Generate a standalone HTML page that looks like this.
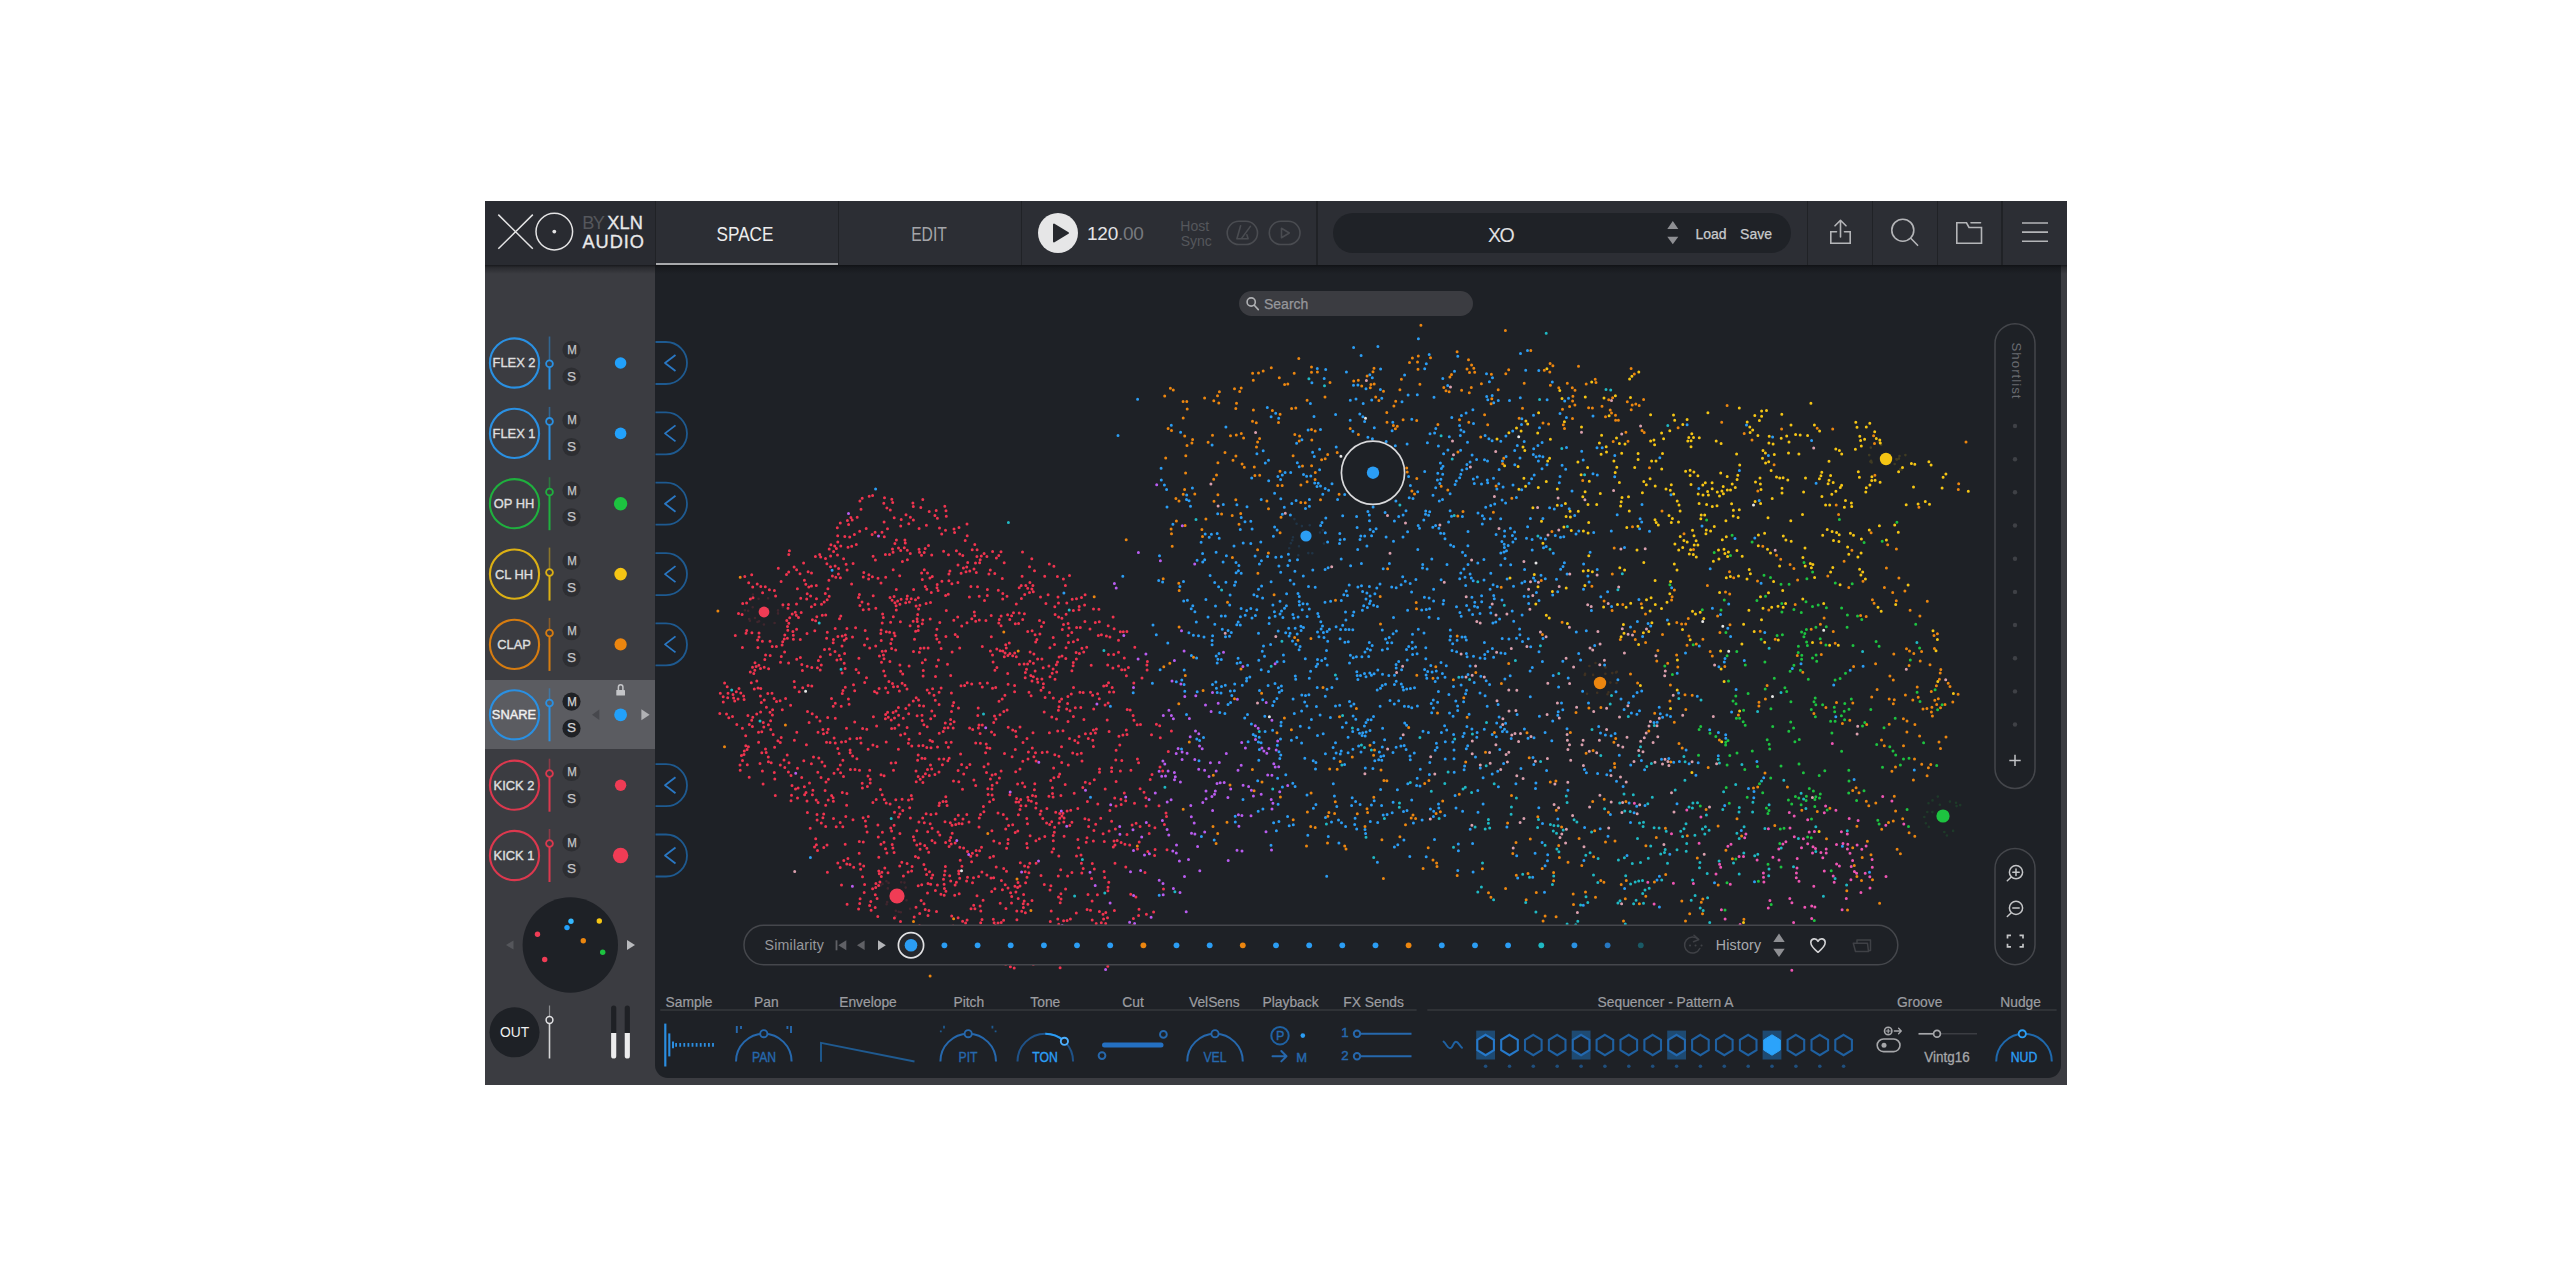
<!DOCTYPE html>
<html lang="en">
<head>
<meta charset="utf-8">
<title>XO by XLN Audio</title>
<style>
html,body{margin:0;padding:0;background:#fff;}
body{width:2560px;height:1280px;overflow:hidden;position:relative;font-family:"Liberation Sans",sans-serif;}
#stage{position:absolute;left:0;top:0;width:2560px;height:1280px;overflow:hidden;}
#stage div{position:absolute;box-sizing:border-box;}
.t{white-space:nowrap;transform:translate(-50%,-50%);line-height:1;color:#e4e4e6;}
.tl{white-space:nowrap;transform:translate(0,-50%);line-height:1;color:#e4e4e6;}
#app{left:485px;top:201px;width:1581.5px;height:883.5px;background:#3b3c41;}
#main{left:655.3px;top:265px;width:1406px;height:813.3px;background:#1e2126;border-radius:0 0 13px 13px;}
#topbar{left:485px;top:201px;width:1581.5px;height:64px;background:#2c2e34;}
#tbshadow{left:485px;top:265px;width:1581.5px;height:9px;background:linear-gradient(rgba(12,13,16,.75),rgba(12,13,16,.35) 30%,rgba(12,13,16,0));}
#logo{left:485px;top:201px;width:170.5px;height:64px;background:#292b31;}
.vd{top:201px;width:1.5px;height:64px;background:#202226;}
#tabline{left:656px;top:262.5px;width:182px;height:2.5px;background:#a8a9ac;}
#preset{left:1332.5px;top:213px;width:458.5px;height:39.5px;border-radius:20px;background:#1f2227;}
#search{left:1238.7px;top:290.7px;width:234px;height:25px;border-radius:12.5px;background:#3b3c41;}
#selrow{left:485px;top:679.8px;width:170.3px;height:69.6px;background:#5b5c61;}
svg{position:absolute;left:0;top:0;}
.lab{font-size:13.8px;color:#9c9da1;-webkit-text-stroke:.2px #9c9da1;}
</style>
</head>
<body>
<div id="stage">
<div id="app"></div>
<div id="main"></div>
<div id="selrow"></div>
<div id="tbshadow"></div>
<div id="topbar"></div>
<div id="logo"></div>
<div class="vd" style="left:654.8px"></div>
<div class="vd" style="left:837.5px"></div>
<div class="vd" style="left:1020.5px"></div>
<div class="vd" style="left:1316px"></div>
<div class="vd" style="left:1806.5px"></div>
<div class="vd" style="left:1871.7px"></div>
<div class="vd" style="left:1936.8px"></div>
<div class="vd" style="left:2001.2px"></div>
<div id="tabline"></div>
<div id="preset"></div>
<div id="search"></div>
<!-- top bar text -->
<div class="tl" style="left:582.3px;top:223.3px;font-size:18.2px;letter-spacing:-1.6px;color:#55575c">BY</div>
<div class="tl" style="left:607.2px;top:223.3px;font-size:18.2px;letter-spacing:.1px;color:#e9e9ea;-webkit-text-stroke:.3px #e9e9ea">XLN</div>
<div class="tl" style="left:582.4px;top:242.3px;font-size:18.2px;letter-spacing:1px;color:#e9e9ea;-webkit-text-stroke:.3px #e9e9ea">AUDIO</div>
<div class="t" style="left:745.3px;top:233.9px;font-size:20.6px;color:#ececed;transform:translate(-50%,-50%) scaleX(.835)">SPACE</div>
<div class="t" style="left:929.1px;top:233.9px;font-size:20.6px;color:#a4a5a9;transform:translate(-50%,-50%) scaleX(.76)">EDIT</div>
<div class="tl" style="left:1087px;top:233.3px;font-size:19px;letter-spacing:-.25px;color:#e4e4e6">120<span style="color:#77797e">.00</span></div>
<div class="t" style="left:1194.7px;top:226px;font-size:14px;color:#55575c">Host</div>
<div class="t" style="left:1196.3px;top:240.8px;font-size:14px;color:#55575c">Sync</div>
<div class="t" style="left:1500.6px;top:235.5px;font-size:19.6px;letter-spacing:-1.6px;color:#e0e0e2">XO</div>
<div class="t" style="left:1711px;top:233.5px;font-size:14px;color:#c9cacc;-webkit-text-stroke:.25px #c9cacc">Load</div>
<div class="t" style="left:1756px;top:233.5px;font-size:14px;color:#c9cacc;-webkit-text-stroke:.25px #c9cacc">Save</div>
<div class="tl" style="left:1264px;top:303.5px;font-size:14px;color:#96979b;-webkit-text-stroke:.25px #96979b">Search</div>
<svg width="2560" height="1280" viewBox="0 0 2560 1280" fill="none" stroke-linecap="round" stroke-linejoin="round">
<!-- logo -->
<g stroke="#e4e4e5" stroke-width="1.5">
<path d="M498.3 214.6 L532.8 248.8 M532.8 214.6 L498.3 248.8" stroke-linecap="butt"/>
<circle cx="554.3" cy="231.6" r="18.3"/>
<circle cx="554.3" cy="231.6" r="1.9" fill="#e4e4e5" stroke="none"/>
</g>
<!-- play -->
<circle cx="1058" cy="233" r="20" fill="#e6e6e7"/>
<path d="M1054 224.5 L1054 241.5 L1068 233 Z" fill="#26282d" stroke="#26282d" stroke-width="2"/>
<!-- metronome + host play pills -->
<g stroke="#4a4c51" stroke-width="1.6">
<rect x="1227.2" y="221.3" width="30.3" height="23.2" rx="11.6"/>
<rect x="1269.3" y="221.3" width="30.7" height="23.2" rx="11.6"/>
<path d="M1240.6 225.8 L1236.9 238.7 L1248.1 238.7 L1246.9 234.8 M1241.6 238.4 L1250.4 226.4"/>
<path d="M1281.5 228.3 L1281.5 237.7 L1289.3 233 Z"/>
</g>
<!-- preset arrows -->
<path d="M1672.8 221 L1678.3 229 L1667.3 229 Z M1672.8 244.3 L1678.3 236.8 L1667.3 236.8 Z" fill="#8e8f93"/>
<!-- share -->
<g stroke="#b4b5b8" stroke-width="1.6">
<path d="M1836.5 231.8 L1830.8 231.8 L1830.8 243.2 L1850.2 243.2 L1850.2 231.8 L1844.5 231.8" stroke-linejoin="miter"/>
<path d="M1840.5 237 L1840.5 220.3 M1835 225.8 L1840.5 220.3 L1846 225.8"/>
<!-- search -->
<circle cx="1902.8" cy="230.2" r="11"/>
<path d="M1910.8 238.3 L1917.6 245.3"/>
<!-- folder -->
<path d="M1956.8 243.3 L1956.8 222.8 L1966.5 222.8 L1969 227.5 L1981.5 227.5 L1981.5 243.3 Z" stroke-linejoin="miter"/>
<path d="M1971 222.8 L1980.5 222.8"/>
<!-- menu -->
<path d="M2022 223 L2048 223 M2022 232.1 L2048 232.1 M2022 241.2 L2048 241.2" stroke-linecap="butt"/>
</g>
<!-- search field icon -->
<g stroke="#b0b1b4" stroke-width="1.6">
<circle cx="1251.2" cy="302" r="4.1"/>
<path d="M1254.3 305.3 L1258.3 309.6"/>
</g>
</svg>
<svg width="2560" height="1280" viewBox="0 0 2560 1280" fill="none" stroke-linecap="butt" stroke-linejoin="round">
<circle cx="514.5" cy="363.0" r="24.6" stroke="#2a90e2" stroke-width="2.1"/>
<path d="M549.5 336.5 L549.5 360.3" stroke="#2a90e2" stroke-opacity=".5" stroke-width="1.6"/>
<path d="M549.5 367.3 L549.5 389.5" stroke="#2a90e2" stroke-width="2"/>
<circle cx="549.5" cy="363.8" r="3.4" stroke="#2a90e2" stroke-width="1.8"/>
<circle cx="571.5" cy="349.8" r="9.1" fill="#2d2e32"/><circle cx="571.5" cy="376.6" r="9.1" fill="#2d2e32"/>
<circle cx="620.6" cy="363.0" r="5.8" fill="#22a1fb"/>
<path d="M655.5 342.0 L666 342.0 A21 21 0 0 1 666 384.0 L655.5 384.0" stroke="#1e5a90" stroke-width="1.8"/>
<path d="M675.5 355.0 L665 363.0 L675.5 371.0" stroke="#2a78c4" stroke-width="1.8"/>
<circle cx="514.5" cy="433.4" r="24.6" stroke="#2a90e2" stroke-width="2.1"/>
<path d="M549.5 406.9 L549.5 417.9" stroke="#2a90e2" stroke-opacity=".5" stroke-width="1.6"/>
<path d="M549.5 424.9 L549.5 459.9" stroke="#2a90e2" stroke-width="2"/>
<circle cx="549.5" cy="421.4" r="3.4" stroke="#2a90e2" stroke-width="1.8"/>
<circle cx="571.5" cy="420.2" r="9.1" fill="#2d2e32"/><circle cx="571.5" cy="447.0" r="9.1" fill="#2d2e32"/>
<circle cx="620.6" cy="433.4" r="5.8" fill="#22a1fb"/>
<path d="M655.5 412.4 L666 412.4 A21 21 0 0 1 666 454.4 L655.5 454.4" stroke="#1e5a90" stroke-width="1.8"/>
<path d="M675.5 425.4 L665 433.4 L675.5 441.4" stroke="#2a78c4" stroke-width="1.8"/>
<circle cx="514.5" cy="503.7" r="24.6" stroke="#1fb03e" stroke-width="2.1"/>
<path d="M549.5 477.2 L549.5 488.5" stroke="#1fb03e" stroke-opacity=".5" stroke-width="1.6"/>
<path d="M549.5 495.5 L549.5 530.2" stroke="#1fb03e" stroke-width="2"/>
<circle cx="549.5" cy="492.0" r="3.4" stroke="#1fb03e" stroke-width="1.8"/>
<circle cx="571.5" cy="490.5" r="9.1" fill="#2d2e32"/><circle cx="571.5" cy="517.3" r="9.1" fill="#2d2e32"/>
<circle cx="620.6" cy="503.7" r="6.7" fill="#1dc340"/>
<path d="M655.5 482.7 L666 482.7 A21 21 0 0 1 666 524.7 L655.5 524.7" stroke="#1e5a90" stroke-width="1.8"/>
<path d="M675.5 495.7 L665 503.7 L675.5 511.7" stroke="#2a78c4" stroke-width="1.8"/>
<circle cx="514.5" cy="574.1" r="24.6" stroke="#dcb014" stroke-width="2.1"/>
<path d="M549.5 547.6 L549.5 569.0" stroke="#dcb014" stroke-opacity=".5" stroke-width="1.6"/>
<path d="M549.5 576.0 L549.5 600.6" stroke="#dcb014" stroke-width="2"/>
<circle cx="549.5" cy="572.5" r="3.4" stroke="#dcb014" stroke-width="1.8"/>
<circle cx="571.5" cy="560.9" r="9.1" fill="#2d2e32"/><circle cx="571.5" cy="587.7" r="9.1" fill="#2d2e32"/>
<circle cx="620.6" cy="574.1" r="6.3" fill="#f5c514"/>
<path d="M655.5 553.1 L666 553.1 A21 21 0 0 1 666 595.1 L655.5 595.1" stroke="#1e5a90" stroke-width="1.8"/>
<path d="M675.5 566.1 L665 574.1 L675.5 582.1" stroke="#2a78c4" stroke-width="1.8"/>
<circle cx="514.5" cy="644.4" r="24.6" stroke="#d67c10" stroke-width="2.1"/>
<path d="M549.5 617.9 L549.5 629.5" stroke="#d67c10" stroke-opacity=".5" stroke-width="1.6"/>
<path d="M549.5 636.5 L549.5 670.9" stroke="#d67c10" stroke-width="2"/>
<circle cx="549.5" cy="633.0" r="3.4" stroke="#d67c10" stroke-width="1.8"/>
<circle cx="571.5" cy="631.2" r="9.1" fill="#2d2e32"/><circle cx="571.5" cy="658.0" r="9.1" fill="#2d2e32"/>
<circle cx="620.6" cy="644.4" r="6.1" fill="#ec860f"/>
<path d="M655.5 623.4 L666 623.4 A21 21 0 0 1 666 665.4 L655.5 665.4" stroke="#1e5a90" stroke-width="1.8"/>
<path d="M675.5 636.4 L665 644.4 L675.5 652.4" stroke="#2a78c4" stroke-width="1.8"/>
<circle cx="514.5" cy="714.8" r="24.6" stroke="#2a90e2" stroke-width="2.1"/>
<path d="M549.5 688.3 L549.5 699.5" stroke="#2a90e2" stroke-opacity=".5" stroke-width="1.6"/>
<path d="M549.5 706.5 L549.5 741.3" stroke="#2a90e2" stroke-width="2"/>
<circle cx="549.5" cy="703.0" r="3.4" stroke="#2a90e2" stroke-width="1.8"/>
<circle cx="571.5" cy="701.6" r="9.1" fill="#1f2125"/><circle cx="571.5" cy="728.4" r="9.1" fill="#1f2125"/>
<circle cx="620.6" cy="714.8" r="6.4" fill="#22a1fb"/>
<circle cx="514.5" cy="785.2" r="24.6" stroke="#dc384e" stroke-width="2.1"/>
<path d="M549.5 758.7 L549.5 770.0" stroke="#dc384e" stroke-opacity=".5" stroke-width="1.6"/>
<path d="M549.5 777.0 L549.5 811.7" stroke="#dc384e" stroke-width="2"/>
<circle cx="549.5" cy="773.5" r="3.4" stroke="#dc384e" stroke-width="1.8"/>
<circle cx="571.5" cy="772.0" r="9.1" fill="#2d2e32"/><circle cx="571.5" cy="798.8" r="9.1" fill="#2d2e32"/>
<circle cx="620.6" cy="785.2" r="5.7" fill="#f03c55"/>
<path d="M655.5 764.2 L666 764.2 A21 21 0 0 1 666 806.2 L655.5 806.2" stroke="#1e5a90" stroke-width="1.8"/>
<path d="M675.5 777.2 L665 785.2 L675.5 793.2" stroke="#2a78c4" stroke-width="1.8"/>
<circle cx="514.5" cy="855.5" r="24.6" stroke="#dc384e" stroke-width="2.1"/>
<path d="M549.5 829.0 L549.5 840.0" stroke="#dc384e" stroke-opacity=".5" stroke-width="1.6"/>
<path d="M549.5 847.0 L549.5 882.0" stroke="#dc384e" stroke-width="2"/>
<circle cx="549.5" cy="843.5" r="3.4" stroke="#dc384e" stroke-width="1.8"/>
<circle cx="571.5" cy="842.3" r="9.1" fill="#2d2e32"/><circle cx="571.5" cy="869.1" r="9.1" fill="#2d2e32"/>
<circle cx="620.6" cy="855.5" r="7.7" fill="#f03c55"/>
<path d="M655.5 834.5 L666 834.5 A21 21 0 0 1 666 876.5 L655.5 876.5" stroke="#1e5a90" stroke-width="1.8"/>
<path d="M675.5 847.5 L665 855.5 L675.5 863.5" stroke="#2a78c4" stroke-width="1.8"/>
<path d="M599.3 709.5 L599.3 720.1 L592 714.8 Z" fill="#47484d"/>
<path d="M641.4 709.3 L641.4 720.3 L649.6 714.8 Z" fill="#b0b1b4"/>
<rect x="616.3" y="689.9" width="8.7" height="5.6" rx="0.6" fill="#c4c5c8"/><path d="M618.4 689.9 v-3 a2.25 2.25 0 0 1 4.5 0 v3" stroke="#c4c5c8" stroke-width="1.5"/>
<circle cx="570.3" cy="945" r="47.7" fill="#1e2126"/>
<circle cx="537.5" cy="934.3" r="2.7" fill="#f03c55"/>
<circle cx="544.7" cy="959.5" r="2.7" fill="#f03c55"/>
<circle cx="571" cy="921.3" r="2.7" fill="#35b8ff"/>
<circle cx="567" cy="927.6" r="2.7" fill="#22a1fb"/>
<circle cx="599.3" cy="921" r="2.7" fill="#f5c514"/>
<circle cx="583.3" cy="940.7" r="2.7" fill="#ec860f"/>
<circle cx="602.7" cy="952.3" r="2.7" fill="#1dc340"/>
<path d="M513.5 940.5 L513.5 949.5 L506 945 Z" fill="#55565b"/>
<path d="M627 940 L627 950 L635 945 Z" fill="#b9babd"/>
<circle cx="514.5" cy="1032.3" r="25" fill="#1e2126"/>
<path d="M549.5 1005.5 L549.5 1016.3" stroke="#8b8c90" stroke-width="1.2"/>
<path d="M549.5 1023.6 L549.5 1058.5" stroke="#d5d5d7" stroke-width="1.6"/>
<circle cx="549.5" cy="1020" r="3.4" stroke="#e2e2e4" stroke-width="1.5"/>
<rect x="611.1" y="1005.5" width="5.2" height="53" rx="2.6" fill="#1f2125"/>
<path d="M611.1 1033 L616.3000000000001 1033 L616.3000000000001 1055.9 A2.6 2.6 0 0 1 611.1 1055.9 Z" fill="#ececed"/>
<rect x="624.6999999999999" y="1005.5" width="5.2" height="53" rx="2.6" fill="#1f2125"/>
<path d="M624.6999999999999 1033 L629.9 1033 L629.9 1055.9 A2.6 2.6 0 0 1 624.6999999999999 1055.9 Z" fill="#ececed"/>
</svg>
<div class="t" style="left:513.8px;top:363.4px;font-size:13.7px;color:#dededf;-webkit-text-stroke:.4px #dededf;transform:translate(-50%,-50%) scaleX(.94)">FLEX 2</div>
<div class="t" style="left:571.6px;top:350.0px;font-size:12.8px;color:#c4c5c8;-webkit-text-stroke:.25px #c4c5c8;transform:translate(-50%,-50%) scaleX(.9)">M</div>
<div class="t" style="left:571.6px;top:376.6px;font-size:13.6px;color:#c4c5c8;-webkit-text-stroke:.25px #c4c5c8">S</div>
<div class="t" style="left:513.8px;top:433.8px;font-size:13.7px;color:#dededf;-webkit-text-stroke:.4px #dededf;transform:translate(-50%,-50%) scaleX(.94)">FLEX 1</div>
<div class="t" style="left:571.6px;top:420.4px;font-size:12.8px;color:#c4c5c8;-webkit-text-stroke:.25px #c4c5c8;transform:translate(-50%,-50%) scaleX(.9)">M</div>
<div class="t" style="left:571.6px;top:447.0px;font-size:13.6px;color:#c4c5c8;-webkit-text-stroke:.25px #c4c5c8">S</div>
<div class="t" style="left:513.8px;top:504.1px;font-size:13.7px;color:#dededf;-webkit-text-stroke:.4px #dededf;transform:translate(-50%,-50%) scaleX(.94)">OP HH</div>
<div class="t" style="left:571.6px;top:490.7px;font-size:12.8px;color:#c4c5c8;-webkit-text-stroke:.25px #c4c5c8;transform:translate(-50%,-50%) scaleX(.9)">M</div>
<div class="t" style="left:571.6px;top:517.3px;font-size:13.6px;color:#c4c5c8;-webkit-text-stroke:.25px #c4c5c8">S</div>
<div class="t" style="left:513.8px;top:574.5px;font-size:13.7px;color:#dededf;-webkit-text-stroke:.4px #dededf;transform:translate(-50%,-50%) scaleX(.94)">CL HH</div>
<div class="t" style="left:571.6px;top:561.1px;font-size:12.8px;color:#c4c5c8;-webkit-text-stroke:.25px #c4c5c8;transform:translate(-50%,-50%) scaleX(.9)">M</div>
<div class="t" style="left:571.6px;top:587.7px;font-size:13.6px;color:#c4c5c8;-webkit-text-stroke:.25px #c4c5c8">S</div>
<div class="t" style="left:513.8px;top:644.8px;font-size:13.7px;color:#dededf;-webkit-text-stroke:.4px #dededf;transform:translate(-50%,-50%) scaleX(.94)">CLAP</div>
<div class="t" style="left:571.6px;top:631.4px;font-size:12.8px;color:#c4c5c8;-webkit-text-stroke:.25px #c4c5c8;transform:translate(-50%,-50%) scaleX(.9)">M</div>
<div class="t" style="left:571.6px;top:658.0px;font-size:13.6px;color:#c4c5c8;-webkit-text-stroke:.25px #c4c5c8">S</div>
<div class="t" style="left:513.8px;top:715.2px;font-size:13.7px;color:#f0f0f1;-webkit-text-stroke:.4px #f0f0f1;transform:translate(-50%,-50%) scaleX(.94)">SNARE</div>
<div class="t" style="left:571.6px;top:701.8px;font-size:12.8px;color:#d4d4d6;-webkit-text-stroke:.25px #d4d4d6;transform:translate(-50%,-50%) scaleX(.9)">M</div>
<div class="t" style="left:571.6px;top:728.4px;font-size:13.6px;color:#d4d4d6;-webkit-text-stroke:.25px #d4d4d6">S</div>
<div class="t" style="left:513.8px;top:785.6px;font-size:13.7px;color:#dededf;-webkit-text-stroke:.4px #dededf;transform:translate(-50%,-50%) scaleX(.94)">KICK 2</div>
<div class="t" style="left:571.6px;top:772.2px;font-size:12.8px;color:#c4c5c8;-webkit-text-stroke:.25px #c4c5c8;transform:translate(-50%,-50%) scaleX(.9)">M</div>
<div class="t" style="left:571.6px;top:798.8px;font-size:13.6px;color:#c4c5c8;-webkit-text-stroke:.25px #c4c5c8">S</div>
<div class="t" style="left:513.8px;top:855.9px;font-size:13.7px;color:#dededf;-webkit-text-stroke:.4px #dededf;transform:translate(-50%,-50%) scaleX(.94)">KICK 1</div>
<div class="t" style="left:571.6px;top:842.5px;font-size:12.8px;color:#c4c5c8;-webkit-text-stroke:.25px #c4c5c8;transform:translate(-50%,-50%) scaleX(.9)">M</div>
<div class="t" style="left:571.6px;top:869.1px;font-size:13.6px;color:#c4c5c8;-webkit-text-stroke:.25px #c4c5c8">S</div>
<div class="t" style="left:514.5px;top:1032.8px;font-size:13.8px;color:#f0f0f1">OUT</div>
<svg width="2560" height="1280" viewBox="0 0 2560 1280" fill="none" stroke-linecap="round" stroke-width="3">
<clipPath id="sc"><rect x="656" y="266" width="1405" height="723"/></clipPath>
<g clip-path="url(#sc)">
<path stroke="#f0344f" d="M844.6 653.5h0M870.2 779.2h0M870.2 782.9h0M867.4 786.5h0M842.8 826.7h0M1064.1 818.0h0M1063.8 821.9h0M1000.2 903.2h0M872.9 745.1h0M847.4 520.6h0M852.2 519.9h0M857.2 517.2h0M1029.8 863.2h0M1060.7 869.7h0M1127.0 834.4h0M794.4 740.2h0M856.9 738.4h0M885.4 554.6h0M966.0 571.7h0M788.4 771.9h0M784.8 767.5h0M780.3 765.0h0M740.8 693.1h0M739.0 688.4h0M938.1 590.6h0M914.3 840.2h0M913.4 836.8h0M875.3 894.8h0M877.1 898.5h0M1092.2 919.9h0M1096.2 923.5h0M1101.3 922.8h0M1105.7 923.6h0M996.9 667.6h0M994.9 670.3h0M885.1 675.7h0M883.7 670.9h0M816.8 616.7h0M1037.2 928.6h0M1134.5 803.3h0M1020.7 799.4h0M1001.4 880.6h0M774.8 779.0h0M800.0 573.8h0M1043.2 687.6h0M1043.4 683.7h0M1041.9 679.1h0M784.3 638.9h0M980.1 733.4h0M1098.3 635.5h0M1109.1 731.5h0M899.9 833.6h0M1149.2 825.6h0M989.9 857.5h0M1027.3 847.8h0M859.9 500.9h0M862.2 498.3h0M1105.2 789.0h0M835.8 577.2h0M840.4 577.7h0M880.4 789.5h0M951.2 844.0h0M949.7 840.5h0M1002.8 593.4h0M1002.7 599.0h0M765.5 748.9h0M766.2 752.4h0M768.3 757.0h0M768.4 761.8h0M777.9 740.7h0M1023.6 894.4h0M1123.3 631.8h0M1007.6 614.7h0M1084.4 957.9h0M1047.6 940.1h0M1042.5 937.2h0M1037.8 939.8h0M746.7 630.5h0M751.9 632.7h0M791.5 795.2h0M791.0 800.7h0M890.1 804.1h0M1114.1 628.8h0M945.4 866.6h0M894.1 838.2h0M881.1 630.1h0M1060.1 967.7h0M1039.5 620.5h0M1043.7 622.4h0M919.4 705.5h0M918.5 700.0h0M916.2 697.7h0M856.9 758.8h0M1118.9 736.3h0M1122.9 735.1h0M825.5 558.6h0M820.7 557.0h0M939.1 704.6h0M826.0 782.0h0M918.2 776.6h0M916.0 771.1h0M909.1 666.0h0M1036.1 863.3h0M937.0 587.8h0M1126.9 631.5h0M1146.9 664.9h0M875.7 887.6h0M878.6 885.4h0M879.9 882.1h0M1042.9 954.0h0M1040.5 956.8h0M852.6 755.9h0M1049.4 732.8h0M988.7 943.9h0M1032.5 943.1h0M860.1 898.8h0M859.7 903.5h0M858.6 908.9h0M915.4 856.6h0M1047.2 752.0h0M1042.2 752.6h0M954.1 721.8h0M919.9 605.2h0M1159.7 725.8h0M750.3 672.1h0M882.2 794.8h0M1130.7 894.2h0M1135.9 896.9h0M917.1 715.8h0M828.9 580.2h0M832.4 576.0h0M1121.2 804.4h0M910.3 553.5h0M892.9 848.0h0M834.7 545.9h0M830.9 544.8h0M891.6 830.9h0M1093.7 709.0h0M1055.7 812.3h0M881.5 662.3h0M1005.7 964.3h0M996.4 557.9h0M998.8 555.4h0M1001.0 551.7h0M913.2 621.3h0M917.1 618.7h0M922.8 620.0h0M985.6 752.7h0M987.0 747.7h0M1065.8 658.4h0M1007.1 710.0h0M862.4 788.0h0M991.7 891.6h0M959.7 647.9h0M914.5 639.2h0M1095.4 733.1h0M1096.4 729.1h0M902.4 561.5h0M795.5 789.1h0M786.5 574.6h0M864.2 892.6h0M1104.1 871.6h0M812.9 790.3h0M1057.5 662.1h0M833.1 797.8h0M1171.4 730.9h0M843.6 558.7h0M1028.4 752.0h0M1032.3 747.9h0M1019.6 959.8h0M1137.5 848.9h0M932.1 828.2h0M930.2 823.7h0M939.0 772.0h0M800.4 657.5h0M796.7 659.3h0M1026.8 843.6h0M974.3 611.9h0M974.7 615.8h0M975.7 621.2h0M761.3 702.6h0M1081.4 863.3h0M1083.2 868.6h0M1081.8 872.9h0M980.1 905.9h0M788.8 623.3h0M787.5 626.4h0M787.8 630.3h0M784.8 635.1h0M1084.6 604.9h0M823.7 814.1h0M1120.3 631.7h0M982.3 646.4h0M1016.2 736.6h0M1071.9 822.2h0M1069.8 825.4h0M756.7 713.9h0M760.6 711.9h0M1162.7 771.1h0M950.7 837.6h0M952.2 833.3h0M1077.7 639.8h0M931.5 878.1h0M836.2 826.7h0M840.2 822.5h0M894.1 852.6h0M1011.5 902.9h0M1115.0 845.0h0M1114.0 841.1h0M894.1 825.3h0M1035.1 671.1h0M1091.6 878.6h0M896.3 610.1h0M963.7 774.0h0M955.1 819.3h0M958.3 815.2h0M1002.3 578.5h0M884.0 658.8h0M883.4 654.9h0M885.6 650.9h0M1049.5 928.0h0M1053.9 928.7h0M949.7 875.8h0M1054.5 644.6h0M1049.9 647.8h0M919.5 552.3h0M807.5 711.4h0M958.0 565.0h0M979.3 619.9h0M850.9 517.4h0M848.6 524.4h0M1061.7 762.5h0M1025.4 912.8h0M1002.2 698.9h0M1004.9 695.2h0M978.4 728.1h0M979.0 724.9h0M1071.3 694.1h0M801.7 777.5h0M1015.2 832.6h0M988.9 574.1h0M990.3 569.9h0M1089.8 783.6h0M1088.0 894.6h0M752.8 717.3h0M747.9 715.5h0M927.7 831.8h0M881.0 582.9h0M878.0 578.3h0M872.4 576.8h0M868.9 574.8h0M1028.9 872.8h0M1025.2 871.7h0M1066.8 603.1h0M830.6 555.9h0M833.6 551.6h0M836.4 548.4h0M840.8 546.0h0M914.0 943.0h0M1015.3 749.6h0M762.4 641.2h0M757.6 640.0h0M884.0 842.3h0M880.9 844.2h0M1035.7 642.1h0M969.8 571.1h0M770.7 729.6h0M957.6 636.7h0M1081.0 949.6h0M921.5 555.2h0M1090.5 692.2h0M1092.6 695.3h0M1056.5 719.0h0M1073.4 716.6h0M907.4 559.8h0M1041.9 659.1h0M1037.6 658.9h0M840.2 867.5h0M851.6 584.1h0M804.4 786.7h0M843.0 690.4h0M994.1 922.7h0M998.0 923.0h0M1033.9 756.8h0M1035.5 752.7h0M1005.8 940.3h0M1001.0 940.3h0M996.1 941.9h0M955.2 634.6h0M919.0 549.3h0M835.3 703.2h0M949.2 758.2h0M1106.6 685.5h0M823.8 847.5h0M827.0 845.0h0M926.8 589.3h0M1150.2 779.6h0M1113.3 847.1h0M1117.2 840.4h0M931.7 769.1h0M927.5 769.5h0M1097.4 894.8h0M919.8 733.5h0M1071.8 632.5h0M844.8 536.5h0M1120.4 770.9h0M815.6 620.8h0M812.4 619.7h0M1003.8 711.5h0M1000.0 714.7h0M994.5 715.9h0M872.6 888.7h0M902.8 810.4h0M913.5 651.5h0M1013.5 612.7h0M1019.2 612.9h0M1024.4 613.8h0M872.9 802.6h0M1020.0 726.9h0M751.7 720.2h0M864.5 644.9h0M952.0 825.2h0M1009.8 794.7h0M939.2 733.3h0M885.6 687.9h0M763.8 727.0h0M763.3 722.5h0M918.4 857.8h0M1097.6 693.8h0M1099.3 698.7h0M1125.2 950.0h0M1128.1 951.6h0M817.8 772.3h0M1076.4 658.9h0M920.1 849.2h0M1159.0 805.7h0M1064.1 836.2h0M720.3 693.3h0M723.2 696.7h0M1073.5 687.6h0M856.3 544.6h0M851.7 546.3h0M848.0 547.3h0M930.0 740.3h0M992.6 551.6h0M794.2 681.5h0M794.7 687.2h0M1098.9 609.3h0M1093.5 608.9h0M890.6 622.3h0M969.0 822.0h0M927.2 726.7h0M727.7 697.8h0M733.6 697.9h0M738.0 699.1h0M746.0 633.3h0M992.5 688.3h0M995.7 687.6h0M866.8 729.3h0M1103.7 686.1h0M929.3 775.5h0M962.1 823.8h0M758.5 732.2h0M761.8 731.7h0M906.1 934.1h0M863.3 577.1h0M837.9 636.6h0M833.4 639.4h0M833.2 642.7h0M946.0 510.7h0M957.9 582.6h0M1127.2 709.6h0M866.5 677.7h0M864.7 682.6h0M900.5 921.5h0M760.5 668.4h0M756.1 666.6h0M751.7 574.8h0M969.4 597.0h0M1051.8 717.1h0M1099.4 911.6h0M1103.0 914.2h0M1107.5 917.8h0M862.5 876.8h0M1154.6 855.4h0M778.3 568.3h0M945.6 595.6h0M882.2 651.2h0M814.5 846.9h0M1017.8 831.1h0M958.8 781.8h0M1053.2 637.6h0M1109.9 810.4h0M802.7 687.8h0M967.0 622.7h0M805.8 584.2h0M1099.5 769.0h0M1099.5 772.3h0M1127.0 734.5h0M863.1 817.8h0M865.4 821.1h0M931.4 940.1h0M985.9 620.4h0M890.8 643.6h0M891.6 648.5h0M888.9 681.4h0M908.8 523.7h0M913.4 519.9h0M1104.3 841.6h0M1059.7 774.1h0M1022.5 552.0h0M943.5 879.2h0M944.4 875.0h0M945.0 871.1h0M1054.3 832.3h0M1053.2 835.4h0M931.7 555.0h0M744.8 576.4h0M1048.9 796.3h0M939.3 642.2h0M936.9 639.1h0M954.0 528.9h0M959.0 527.6h0M926.1 603.4h0M930.5 602.4h0M941.1 687.9h0M939.1 692.2h0M965.6 923.0h0M967.1 920.1h0M1022.5 782.9h0M899.9 604.2h0M1009.8 619.5h0M1011.6 615.8h0M1101.6 937.6h0M1098.8 934.6h0M1062.0 656.1h0M950.7 675.5h0M1081.9 648.2h0M1079.4 653.5h0M885.7 577.3h0M881.0 774.7h0M884.1 775.8h0M902.1 683.2h0M905.0 685.2h0M907.0 688.9h0M1060.9 795.4h0M792.9 631.6h0M796.6 629.3h0M882.6 614.0h0M1016.8 910.9h0M938.4 660.0h0M1053.6 767.9h0M1015.3 623.7h0M922.2 720.5h0M922.0 715.2h0M841.5 884.9h0M785.6 698.5h0M963.1 938.5h0M853.7 867.2h0M850.0 864.6h0M846.8 863.9h0M843.8 860.6h0M1068.1 623.4h0M840.8 616.1h0M959.7 878.3h0M834.1 738.0h0M958.7 871.0h0M961.9 866.3h0M788.6 662.9h0M842.0 645.9h0M844.3 640.3h0M845.4 635.0h0M936.0 635.2h0M936.9 629.3h0M860.4 738.0h0M861.0 742.9h0M869.7 770.2h0M740.2 770.3h0M740.0 764.9h0M742.5 760.6h0M935.0 842.8h0M906.8 599.0h0M901.1 599.3h0M897.6 601.0h0M892.1 600.3h0M1003.7 868.6h0M1006.5 871.2h0M1093.4 840.9h0M796.3 615.2h0M1010.4 966.8h0M987.3 595.5h0M987.4 589.6h0M1018.0 882.4h0M1020.0 886.0h0M810.2 828.2h0M744.1 699.5h0M903.4 876.0h0M1030.1 835.8h0M1039.9 633.9h0M1035.1 634.8h0M840.3 523.1h0M837.3 527.7h0M1154.9 827.8h0M990.4 651.1h0M1033.9 654.0h0M1030.1 652.1h0M1041.0 690.2h0M786.8 620.4h0M789.7 617.7h0M792.2 613.9h0M795.3 612.2h0M1105.0 935.0h0M920.8 507.4h0M918.7 745.7h0M868.1 749.3h0M1092.3 863.6h0M920.4 648.2h0M919.4 652.2h0M958.5 708.1h0M815.4 556.4h0M960.2 860.2h0M1040.5 596.9h0M1005.2 884.8h0M1008.0 887.9h0M1010.6 892.8h0M1011.7 896.6h0M979.6 562.7h0M975.5 563.1h0M916.1 605.9h0M817.0 814.6h0M1055.0 679.3h0M772.0 693.2h0M984.5 600.4h0M1027.0 877.2h0M762.6 592.7h0M1063.6 920.8h0M1067.1 920.4h0M1070.4 919.0h0M788.7 571.9h0M928.1 647.9h0M924.0 647.9h0M788.5 604.4h0M782.9 604.7h0M910.4 817.9h0M1035.9 840.7h0M1039.3 838.7h0M1044.8 836.6h0M1001.2 922.4h0M1003.6 920.2h0M1072.2 599.2h0M1076.5 598.7h0M1081.5 597.6h0M1085.1 594.8h0M967.5 851.5h0M875.7 646.0h0M1032.9 585.4h0M1027.7 588.3h0M1058.5 896.9h0M1056.3 664.8h0M973.5 877.7h0M978.6 876.6h0M1029.5 566.7h0M908.7 713.7h0M1108.2 625.8h0M916.2 781.8h0M1035.8 807.9h0M1041.0 810.9h0M1058.7 924.3h0M1057.8 919.1h0M971.6 861.8h0M1065.6 889.1h0M1020.3 862.7h0M1024.6 865.9h0M1028.2 867.0h0M830.5 566.7h0M1012.1 756.7h0M1025.9 805.8h0M1017.6 784.1h0M1024.8 786.7h0M926.6 874.5h0M925.5 869.2h0M847.1 570.0h0M982.3 725.0h0M934.9 515.4h0M937.4 518.2h0M803.8 760.7h0M1069.5 575.6h0M787.2 755.0h0M879.4 655.9h0M982.5 926.7h0M816.6 716.9h0M925.4 773.8h0M728.0 693.3h0M1058.8 855.9h0M890.7 828.0h0M964.6 685.6h0M1062.3 629.5h0M1063.5 624.6h0M742.4 647.5h0M918.2 755.1h0M917.6 760.3h0M1027.7 631.5h0M1032.1 630.7h0M971.7 684.0h0M835.3 742.9h0M1021.7 937.0h0M744.0 754.6h0M747.1 749.6h0M811.8 685.9h0M774.1 698.4h0M776.5 701.6h0M760.4 696.1h0M764.3 700.1h0M1108.5 682.8h0M846.9 628.6h0M1083.9 952.0h0M761.8 752.8h0M846.3 638.4h0M875.9 883.5h0M821.0 777.5h0M925.2 548.4h0M924.2 552.6h0M789.0 762.8h0M784.0 760.1h0M820.4 656.7h0M810.6 596.0h0M807.2 593.8h0M770.0 641.3h0M984.0 766.8h0M1018.4 954.7h0M1013.7 955.8h0M949.9 570.9h0M800.3 639.5h0M788.0 608.2h0M1108.7 955.9h0M839.5 618.8h0M1005.9 908.4h0M1146.4 914.2h0M799.2 691.7h0M1090.0 628.9h0M1082.0 761.0h0M1107.2 720.1h0M1073.4 610.4h0M938.0 831.9h0M939.8 835.0h0M923.9 724.8h0M893.1 552.3h0M892.7 502.5h0M891.8 499.2h0M1029.3 928.5h0M1019.2 587.7h0M793.4 639.3h0M793.3 635.3h0M956.4 882.2h0M898.5 816.9h0M774.6 747.2h0M827.4 872.2h0M920.2 843.7h0M916.8 845.0h0M1017.6 887.5h0M1015.9 891.9h0M1156.4 724.2h0M1061.9 618.3h0M1058.6 616.9h0M1055.1 614.5h0M989.6 801.8h0M993.4 799.5h0M1119.7 931.8h0M1002.4 889.8h0M859.7 531.3h0M1070.0 710.8h0M1066.7 709.1h0M1084.9 818.7h0M1088.8 819.8h0M855.0 769.6h0M859.5 770.2h0M867.3 638.8h0M974.9 908.7h0M973.7 905.3h0M1155.1 849.6h0M719.8 713.4h0M946.1 742.5h0M948.4 747.3h0M1094.3 869.0h0M1058.5 603.0h0M912.1 866.4h0M1036.1 761.1h0M1067.6 876.0h0M879.1 688.6h0M877.0 693.1h0M975.0 937.0h0M1058.4 710.2h0M1059.0 706.8h0M1059.5 701.5h0M1061.6 699.1h0M917.3 621.5h0M922.3 623.7h0M1033.4 676.8h0M855.6 627.7h0M1130.9 770.2h0M821.3 664.9h0M820.2 670.1h0M797.5 798.0h0M881.9 872.2h0M878.8 871.1h0M921.9 758.2h0M829.2 548.9h0M831.6 795.5h0M828.2 800.0h0M825.7 805.3h0M874.5 691.6h0M944.1 884.2h0M1065.4 585.6h0M962.6 921.2h0M910.1 625.7h0M1040.1 814.2h0M1042.8 818.6h0M1046.6 823.0h0M1049.7 824.5h0M1121.7 669.8h0M987.4 682.9h0M911.6 871.0h0M908.1 872.1h0M853.1 563.6h0M824.5 649.4h0M829.4 649.0h0M946.3 610.6h0M1119.8 744.9h0M1014.2 967.9h0M809.5 783.1h0M1044.3 884.4h0M817.1 820.0h0M821.3 823.0h0M825.7 826.5h0M1071.9 872.5h0M883.3 617.5h0M882.2 623.1h0M806.4 744.8h0M818.0 732.3h0M823.5 733.7h0M925.3 586.4h0M931.3 592.5h0M979.0 827.1h0M1146.1 805.9h0M1160.3 737.8h0M1063.0 730.7h0M875.1 532.3h0M1113.1 617.0h0M854.7 690.7h0M999.4 777.9h0M996.9 782.7h0M992.2 785.3h0M987.8 788.8h0M1001.1 771.0h0M1063.4 579.1h0M1045.3 933.5h0M1049.9 932.6h0M809.1 722.4h0M759.0 633.0h0M759.0 637.0h0M929.9 577.9h0M797.5 768.3h0M814.8 630.8h0M926.4 525.2h0M1031.8 558.7h0M1097.4 927.1h0M976.9 855.3h0M972.4 853.3h0M1121.1 842.6h0M1124.9 844.3h0M1129.7 844.9h0M1029.9 582.5h0M912.0 799.0h0M952.1 651.9h0M850.4 769.6h0M859.4 594.4h0M995.5 774.3h0M898.5 548.1h0M904.3 547.7h0M907.3 550.2h0M782.3 709.8h0M745.7 735.7h0M817.4 667.7h0M811.8 667.6h0M872.1 534.6h0M1059.1 657.0h0M803.6 563.1h0M1028.0 758.9h0M939.1 759.1h0M943.8 758.9h0M947.8 760.8h0M875.2 907.5h0M962.5 789.2h0M1027.8 797.3h0M1031.3 801.2h0M1036.3 803.2h0M1020.0 769.0h0M900.6 671.2h0M1078.2 937.9h0M1014.7 653.0h0M1065.2 784.4h0M1051.7 821.8h0M1116.1 750.3h0M911.3 795.6h0M909.4 602.1h0M885.6 714.4h0M889.9 661.5h0M1152.0 774.6h0M905.3 543.0h0M1136.1 823.3h0M1069.5 738.4h0M1050.9 885.7h0M1050.0 890.0h0M859.9 605.6h0M863.2 609.7h0M873.2 595.7h0M1095.3 622.6h0M1099.3 621.8h0M732.5 716.4h0M728.8 717.8h0M1078.6 847.8h0M1008.1 839.4h0M1007.9 843.6h0M1006.6 848.2h0M1073.3 662.5h0M1073.1 665.8h0M1071.9 670.8h0M826.9 563.7h0M916.0 907.3h0M1070.7 810.2h0M1034.5 570.7h0M896.1 605.8h0M894.9 602.8h0M1036.1 942.0h0M955.1 885.1h0M932.5 741.6h0M1123.6 928.6h0M909.1 705.1h0M773.2 734.5h0M780.3 742.6h0M929.5 871.7h0M1051.2 911.0h0M1166.0 813.1h0M900.4 621.8h0M755.0 662.7h0M758.9 665.2h0M764.2 667.2h0M768.6 668.7h0M977.8 715.4h0M923.0 745.4h0M1033.0 732.8h0M1125.8 867.1h0M1082.8 787.4h0M992.5 655.0h0M893.5 770.3h0M1168.3 751.6h0M727.2 686.8h0M724.6 682.9h0M1018.6 623.5h0M1022.7 619.5h0M1126.4 675.8h0M959.7 553.9h0M962.8 555.6h0M827.2 599.8h0M829.2 596.2h0M1105.0 961.3h0M1107.8 966.2h0M1115.0 863.3h0M875.8 608.2h0M1031.9 588.9h0M1029.5 592.5h0M1024.7 594.4h0M1021.4 598.5h0M782.1 644.9h0M776.4 646.4h0M924.3 569.7h0M899.9 665.1h0M849.7 536.9h0M994.8 573.5h0M896.0 711.0h0M760.8 688.5h0M932.6 688.7h0M927.2 690.1h0M926.8 747.4h0M931.0 747.7h0M979.6 850.8h0M1081.3 753.2h0M751.3 682.8h0M1016.0 802.1h0M990.4 778.9h0M967.0 524.0h0M1068.5 642.5h0M1073.4 641.8h0M1130.3 958.8h0M1031.7 931.6h0M1086.7 647.3h0M943.2 731.4h0M948.0 727.8h0M950.5 723.9h0M1066.0 647.7h0M1030.8 675.5h0M972.7 729.4h0M860.6 869.3h0M860.0 863.9h0M998.3 590.2h0M914.2 917.0h0M1100.7 818.2h0M1139.0 909.2h0M936.5 911.5h0M1104.7 877.4h0M922.9 782.6h0M798.1 787.9h0M1079.0 609.7h0M742.7 603.6h0M746.6 603.0h0M1004.5 753.4h0M892.2 844.6h0M1001.1 625.7h0M1033.4 663.2h0M1164.4 824.6h0M1023.4 907.5h0M1021.7 911.3h0M858.9 658.2h0M861.0 509.3h0M772.4 714.9h0M770.0 712.2h0M822.9 817.7h0M1032.5 795.4h0M733.0 694.4h0M866.2 528.5h0M979.2 596.2h0M923.0 776.7h0M965.2 540.4h0M804.6 794.8h0M771.2 762.7h0M1151.5 734.7h0M928.0 883.5h0M1103.6 918.9h0M769.4 589.7h0M974.8 544.6h0M1037.8 682.2h0M983.1 900.3h0M940.9 894.2h0M944.2 895.3h0M1114.4 910.6h0M822.3 615.2h0M833.4 801.3h0M992.1 795.1h0M988.1 794.5h0M1027.6 664.1h0M1024.1 664.0h0M1071.5 951.2h0M869.7 647.9h0M909.3 927.4h0M859.2 853.3h0M1044.2 711.9h0M1128.4 667.4h0M1109.1 831.0h0M1097.8 803.9h0M862.2 783.3h0M798.5 617.5h0M775.3 795.4h0M886.2 742.1h0M807.0 801.0h0M806.0 792.4h0M1016.9 919.8h0M1027.0 738.4h0M976.1 850.5h0M1069.0 627.9h0M743.6 696.1h0M781.2 737.4h0M892.5 683.4h0M893.5 686.8h0M1166.5 816.6h0M951.2 742.2h0M908.4 743.3h0M911.8 746.1h0M986.9 556.6h0M1153.6 911.9h0M1025.6 882.8h0M969.9 764.6h0M966.7 767.6h0M961.6 764.6h0M1034.8 783.7h0M939.0 805.6h0M762.4 771.0h0M953.1 926.1h0M934.9 774.5h0M845.1 668.6h0M844.2 663.2h0M840.8 659.2h0M839.3 655.5h0M833.5 818.6h0M1053.3 698.1h0M842.9 760.3h0M913.3 700.9h0M1018.8 802.0h0M1016.7 798.4h0M1118.5 666.0h0M1112.9 667.9h0M1107.7 664.9h0M942.4 764.8h0M891.8 639.3h0M984.1 553.6h0M1004.2 562.7h0M1045.9 603.5h0M994.5 734.8h0M991.5 732.0h0M845.2 844.3h0M919.7 913.4h0M993.3 919.2h0M1147.4 661.6h0M835.2 628.6h0M945.9 891.3h0M1160.0 767.1h0M1105.1 704.9h0M1108.1 703.1h0M830.3 654.6h0M876.6 726.1h0M961.0 685.8h0M893.1 712.5h0M1022.1 576.2h0M959.8 847.3h0M1107.9 890.8h0M905.8 708.5h0M1054.6 827.3h0M742.4 728.3h0M894.5 812.3h0M899.9 813.9h0M1056.7 672.1h0M1053.1 669.0h0M1048.9 666.1h0M1043.2 667.7h0M893.2 569.8h0M837.8 748.4h0M839.1 753.4h0M939.8 622.6h0M840.6 772.8h0M843.5 776.4h0M905.7 602.7h0M948.9 580.8h0M1083.2 692.6h0M812.2 713.8h0M944.8 506.3h0M977.0 895.8h0M983.4 806.4h0M1079.2 606.4h0M831.5 698.4h0M1046.9 808.5h0M824.8 765.9h0M822.0 762.1h0M818.8 758.1h0M813.5 757.1h0M876.2 799.6h0M1008.1 684.3h0M980.0 683.2h0M986.9 936.4h0M1148.1 945.6h0M1037.2 679.1h0M858.7 672.8h0M856.1 669.4h0M1130.2 710.0h0M1145.0 872.6h0M953.8 620.2h0M957.7 617.1h0M932.3 576.6h0M927.5 572.9h0M825.7 615.0h0M835.0 651.4h0M1068.3 765.1h0M1079.0 736.4h0M1074.8 740.5h0M893.3 616.8h0M1053.1 797.0h0M1052.5 793.5h0M1052.4 787.7h0M804.4 580.2h0M929.2 511.4h0M975.7 742.9h0M980.4 743.3h0M986.2 744.1h0M989.9 748.2h0M871.1 910.3h0M869.6 905.4h0M870.8 901.4h0M734.7 700.9h0M953.2 728.1h0M899.7 575.7h0M996.8 648.9h0M892.5 548.9h0M894.9 543.5h0M896.4 539.9h0M765.3 586.8h0M763.1 783.9h0M1014.6 685.5h0M901.2 519.6h0M723.3 701.9h0M808.1 571.7h0M901.8 862.2h0M899.7 865.9h0M772.6 709.8h0M1144.0 792.2h0M927.5 893.0h0M772.2 646.5h0M852.5 636.9h0M764.8 659.6h0M1005.7 828.9h0M950.7 881.1h0M919.1 528.4h0M889.5 554.4h0M1024.2 901.0h0M928.0 915.4h0M928.9 910.5h0M993.8 841.0h0M752.7 586.9h0M757.2 584.0h0M894.2 517.8h0M1074.2 793.3h0M908.5 800.0h0M961.1 573.3h0M963.4 567.9h0M966.7 566.9h0M967.7 562.6h0M986.5 772.5h0M943.6 551.2h0M816.2 799.9h0M818.1 802.5h0M1002.8 651.1h0M1058.2 962.3h0M900.7 550.6h0M931.8 942.9h0M1088.6 826.4h0M887.6 712.3h0M888.3 717.3h0M885.4 718.7h0M796.8 732.3h0M949.1 846.6h0M1080.8 707.6h0M1075.3 707.7h0M1111.6 771.6h0M1111.6 767.7h0M1108.4 654.5h0M1023.0 742.4h0M967.5 877.2h0M966.6 880.9h0M922.3 579.6h0M909.0 739.2h0M907.1 727.5h0M817.5 850.4h0M816.4 844.7h0M815.7 838.8h0M1068.1 635.5h0M864.6 884.4h0M991.0 878.0h0M986.9 875.0h0M981.9 872.1h0M858.5 597.5h0M862.0 602.1h0M775.6 596.0h0M774.4 590.5h0M956.4 550.7h0M854.4 534.5h0M784.6 652.0h0M781.3 656.4h0M780.5 662.3h0M1044.7 576.3h0M934.0 695.3h0M929.3 693.1h0M1079.9 692.2h0M931.9 928.7h0M827.9 588.8h0M825.3 593.4h0M925.0 758.5h0M922.9 929.0h0M951.4 693.1h0M946.2 801.4h0M945.8 796.7h0M1018.2 898.5h0M1041.4 626.4h0M1035.7 796.3h0M945.0 821.8h0M950.3 822.8h0M955.7 824.5h0M958.9 823.4h0M1101.4 634.7h0M948.5 554.8h0M894.1 632.9h0M889.6 632.3h0M886.3 631.7h0M880.8 633.6h0M1015.7 771.7h0M835.1 565.9h0M750.3 598.9h0M941.9 581.2h0M937.2 584.6h0M1120.9 799.2h0M816.5 598.7h0M845.3 687.3h0M898.8 725.1h0M894.8 728.3h0M736.8 724.4h0M902.7 674.0h0M1167.0 849.8h0M863.7 865.9h0M966.7 946.2h0M967.0 950.8h0M736.3 691.8h0M752.4 726.6h0M825.1 790.4h0M1072.7 753.0h0M1077.2 754.2h0M1118.5 652.3h0M1049.5 692.6h0M850.1 750.0h0M954.7 895.2h0M959.2 893.7h0M903.3 718.3h0M898.6 715.2h0M841.2 706.3h0M935.3 700.2h0M1093.4 746.6h0M1115.4 829.0h0M1133.8 682.9h0M760.8 586.4h0M1007.0 596.3h0M932.7 875.0h0M1163.5 889.0h0M930.7 884.3h0M921.7 884.8h0M918.2 885.7h0M878.3 836.9h0M953.5 781.0h0M854.7 722.0h0M969.6 727.9h0M801.8 664.4h0M807.2 666.2h0M1086.2 842.3h0M1087.0 837.7h0M741.4 755.4h0M891.6 728.6h0M1113.7 692.1h0M1112.2 687.5h0M980.4 960.1h0M982.3 956.9h0M945.6 842.4h0M991.9 788.9h0M958.1 917.7h0M1134.8 647.2h0M941.1 648.4h0M879.3 873.8h0M767.8 693.6h0M951.7 915.9h0M992.1 775.1h0M922.8 499.5h0M792.0 785.6h0M1108.0 887.3h0M1108.8 882.2h0M993.7 722.5h0M995.9 719.0h0M842.3 792.4h0M846.9 793.5h0M1004.3 656.8h0M796.5 604.0h0M873.4 716.7h0M846.6 805.3h0M904.9 733.7h0M900.6 735.0h0M821.5 604.3h0M915.5 599.8h0M911.2 598.7h0M891.2 720.0h0M849.1 704.2h0M977.1 549.8h0M1033.3 591.7h0M875.4 559.9h0M873.1 556.3h0M757.9 647.6h0M837.9 769.3h0M834.0 773.2h0M827.3 632.3h0M991.2 615.4h0M853.5 684.7h0M1093.4 730.0h0M1090.7 733.4h0M1088.3 738.4h0M748.7 582.7h0M1140.5 724.6h0M1137.2 724.7h0M1134.0 720.3h0M1133.1 715.5h0M1008.6 825.4h0M1014.9 886.2h0M945.3 723.0h0M944.5 727.9h0M1058.0 597.1h0M955.2 843.0h0M930.5 765.1h0M1090.5 910.2h0M924.3 822.7h0M991.3 636.8h0M884.3 536.8h0M891.1 762.9h0M895.7 762.7h0M936.6 666.3h0M1080.3 627.5h0M1076.6 627.6h0M963.6 848.1h0M978.2 708.0h0M760.0 763.6h0M877.9 825.1h0M890.3 510.0h0M1036.9 639.5h0M865.2 630.5h0M862.6 728.5h0M1064.0 954.3h0M1067.1 810.9h0M1063.0 813.3h0M1059.7 818.2h0M1059.0 823.1h0M1007.9 655.5h0M1012.7 655.8h0M1016.3 656.7h0M837.5 555.1h0M982.3 687.0h0M904.9 540.0h0M945.9 636.6h0M884.1 521.9h0M812.4 794.8h0M895.0 635.8h0M1022.8 761.3h0M1114.7 798.1h0M948.3 594.3h0M993.5 856.3h0M863.8 572.6h0M781.1 581.6h0M996.2 866.9h0M1032.0 680.9h0M898.4 749.2h0M1019.4 664.2h0M930.2 619.1h0M749.3 724.6h0M1118.5 640.3h0M960.6 754.1h0M850.2 752.7h0M884.3 799.6h0M886.2 802.9h0M1078.0 742.8h0M944.4 888.4h0M748.4 746.7h0M945.5 530.3h0M941.7 534.0h0M953.7 702.4h0M952.7 705.7h0M951.5 711.6h0M790.6 705.2h0M994.9 888.8h0M1008.2 727.2h0M1012.7 729.9h0M1015.6 731.3h0M932.0 840.6h0M890.0 597.4h0M894.1 596.6h0M840.3 765.0h0M1010.2 952.7h0M1138.6 915.4h0M837.7 535.8h0M794.1 567.1h0M796.6 569.8h0M910.4 517.3h0M906.0 514.7h0M835.3 718.2h0M935.4 890.6h0M1084.9 621.5h0M972.5 882.7h0M966.8 814.6h0M963.0 819.1h0M1124.3 793.0h0M980.5 814.6h0M979.3 817.9h0M818.4 660.5h0M753.0 597.8h0M897.6 686.4h0M899.4 691.1h0M934.9 939.9h0M1077.8 808.4h0M801.2 612.4h0M842.3 693.6h0M958.8 873.8h0M824.2 602.1h0M822.9 729.6h0M828.2 729.3h0M884.8 868.1h0M1006.3 648.1h0M1005.7 644.8h0M847.1 904.3h0M1045.1 697.6h0M1052.0 851.9h0M1050.7 780.4h0M1053.9 777.8h0M1058.5 776.7h0M930.7 718.7h0M934.7 715.8h0M921.6 572.9h0M1014.6 691.8h0M1053.3 840.7h0M971.8 618.7h0M838.6 568.5h0M838.4 574.1h0M895.7 649.9h0M1053.9 566.3h0M1049.3 563.9h0M1067.9 696.4h0M988.2 764.1h0M811.4 763.7h0M1054.8 606.7h0M827.7 717.4h0M943.0 801.4h0M947.1 805.6h0M1087.4 801.4h0M1095.7 824.2h0M826.5 742.3h0M830.1 742.5h0M1147.1 670.1h0M1067.6 703.4h0M950.6 719.4h0M1029.9 661.2h0M1125.7 800.8h0M1116.0 805.9h0M913.6 589.5h0M802.4 670.5h0M1048.1 594.8h0M1009.3 643.1h0M859.3 841.6h0M863.3 842.0h0M1139.2 842.0h0M937.5 747.0h0M970.8 856.3h0M797.4 588.7h0M800.7 598.3h0M768.4 724.7h0M770.6 720.8h0M1142.0 678.1h0M756.8 680.9h0M788.8 554.4h0M789.4 550.8h0M1112.3 962.5h0M1108.3 959.4h0M1057.4 576.4h0M1050.3 921.5h0M846.5 728.3h0M1106.4 635.9h0M811.5 573.1h0M918.3 597.7h0M920.2 779.2h0M894.5 717.9h0M972.2 549.7h0M1061.5 746.8h0M753.8 673.5h0M754.8 670.3h0M752.5 667.2h0M1034.4 789.7h0M867.1 831.9h0M865.9 826.2h0M868.3 816.4h0M1026.5 669.3h0M1025.4 672.4h0M1025.2 677.8h0M1076.1 652.4h0M917.7 614.6h0M918.6 608.9h0M806.7 599.0h0M1009.9 653.5h0M1094.3 779.7h0M1085.3 782.2h0M774.3 772.5h0M1093.9 830.6h0M1068.0 721.6h0M961.7 626.1h0M845.8 816.5h0M1076.5 856.0h0M970.9 586.6h0M1096.3 959.8h0M923.3 670.5h0M923.1 675.9h0M1057.7 730.9h0M954.6 532.4h0M1066.1 614.2h0M916.8 830.8h0M922.3 662.8h0M925.3 659.8h0M735.3 635.6h0M999.6 843.2h0M937.4 885.0h0M1006.9 818.7h0M1003.3 814.4h0M998.0 812.9h0M1132.1 825.0h0M884.5 497.8h0M919.5 925.8h0M916.4 929.6h0M881.2 640.4h0M887.9 692.5h0M906.2 937.1h0M902.1 934.2h0M808.8 586.9h0M1116.1 781.5h0M1124.9 669.7h0M881.3 876.6h0M1007.7 673.6h0M935.5 676.4h0M745.8 745.7h0M744.3 751.0h0M758.0 687.9h0M754.3 688.9h0M898.4 707.6h0M887.5 528.8h0M1113.7 654.5h0M1053.6 848.7h0M738.5 613.5h0M742.1 614.6h0M951.9 583.7h0M1058.3 875.9h0M1124.3 658.0h0M846.1 564.3h0M882.4 832.2h0M848.4 698.9h0M1026.8 818.5h0M842.1 673.1h0M913.3 506.5h0M912.9 503.0h0M1023.2 903.8h0M765.6 655.0h0M770.2 655.4h0M833.2 706.3h0M947.5 664.3h0M948.9 574.0h0M971.0 908.8h0M1147.8 851.5h0M878.8 857.2h0M967.2 682.8h0M726.5 713.9h0M1076.3 913.0h0M1133.4 918.4h0M894.4 918.1h0M816.3 585.4h0M888.0 872.7h0M811.5 585.9h0M1132.7 925.8h0M766.4 707.3h0M1060.2 902.7h0M1061.0 899.0h0M1060.9 893.8h0M841.5 742.1h0M845.7 741.4h0M849.9 738.8h0M1105.8 912.6h0M918.9 822.0h0M882.0 532.3h0M1126.3 730.1h0M1140.1 826.4h0M828.4 779.2h0M1103.1 833.7h0M993.7 877.8h0M836.9 659.9h0M1021.2 585.5h0M1025.8 585.6h0M939.5 802.9h0M939.5 528.0h0M1052.2 673.2h0M1050.0 676.8h0M931.8 711.0h0M837.8 863.0h0M921.1 900.4h0M924.0 903.8h0M925.2 909.4h0M923.6 706.1h0M976.9 556.4h0M837.8 542.0h0M1091.2 665.3h0M998.8 623.0h0M999.3 619.5h0M1001.1 615.9h0M1140.1 788.8h0M807.0 633.5h0M958.1 770.4h0M780.1 700.8h0M1149.2 833.6h0M1049.5 943.0h0M923.9 864.5h0M885.5 848.8h0M886.9 853.0h0M1081.0 855.1h0M1077.9 839.6h0M758.6 742.3h0M877.1 746.6h0M1092.8 740.2h0M872.6 495.6h0M869.2 496.3h0M1121.8 760.6h0M1115.8 759.9h0M747.3 764.7h0M1083.7 652.1h0M980.8 911.1h0M1087.1 909.6h0M993.1 662.1h0M936.1 813.7h0M930.9 814.6h0M926.1 813.7h0M922.7 817.9h0M1031.1 695.7h0M995.4 925.5h0M1032.0 900.5h0M1027.9 904.3h0M827.1 732.4h0M1111.6 821.3h0M853.0 819.7h0M900.7 525.9h0M886.9 507.9h0M883.8 503.2h0M814.9 604.6h0M811.4 606.8h0M807.4 812.5h0M1005.1 653.1h0M1000.1 650.7h0M981.3 556.1h0M980.2 559.8h0M933.9 931.3h0M928.7 852.2h0M926.9 848.3h0M924.7 845.4h0M1027.5 823.8h0M1041.0 875.5h0M1016.3 604.0h0M1137.4 759.0h0M1138.6 762.8h0M1028.5 800.3h0M1075.8 943.8h0M1109.4 692.1h0M787.4 638.2h0M782.7 641.8h0M902.1 799.2h0M749.2 777.3h0M819.7 554.5h0M1145.9 797.8h0M915.6 631.3h0M820.0 720.9h0M967.2 535.8h0M928.5 545.6h0M808.1 685.5h0M977.5 586.7h0M1029.0 692.3h0M1085.4 733.7h0M895.8 799.8h0M868.6 578.9h0M1092.1 901.0h0M999.0 701.3h0M974.0 568.9h0M976.3 572.5h0M909.7 807.8h0M1136.2 941.4h0M826.6 638.3h0M791.0 775.6h0M899.2 807.2h0M907.3 596.0h0M1012.7 824.8h0M918.2 630.6h0M918.3 626.2h0M907.1 863.6h0M980.7 922.8h0M982.0 919.4h0M1033.3 964.3h0M946.3 516.3h0M991.9 830.8h0M896.3 589.6h0M1020.9 805.7h0M1020.0 809.4h0M1018.4 814.7h0M1058.9 756.3h0M1054.8 754.8h0M842.2 635.9h0M936.2 510.5h0M847.9 858.4h0M981.5 847.3h0M877.8 916.6h0M973.9 780.1h0M975.7 785.5h0M983.9 811.7h0M1109.9 637.1h0M868.0 775.9h0M868.9 609.3h0M868.2 604.1h0M1083.9 719.6h0M1059.7 813.4h0M1061.9 816.1h0"/>
<path stroke="#2b9df4" d="M1412.2 642.2h0M1414.3 752.9h0M1337.6 499.4h0M1395.9 500.9h0M1171.3 425.2h0M1325.3 532.7h0M1310.6 671.2h0M1739.4 470.6h0M1255.1 555.9h0M1583.5 589.2h0M1357.1 527.6h0M1289.1 636.1h0M1520.0 458.0h0M1440.6 533.3h0M1444.0 533.4h0M1457.8 356.2h0M1313.2 760.7h0M1588.5 703.1h0M1394.4 684.4h0M1315.2 587.3h0M1645.0 805.4h0M1279.0 751.7h0M1446.7 730.1h0M1441.4 732.4h0M1490.0 607.2h0M1494.3 598.8h0M1358.6 746.1h0M1255.6 736.0h0M1176.3 681.7h0M1184.1 684.5h0M1310.8 476.0h0M1319.6 469.7h0M1373.4 531.4h0M1370.1 529.4h0M1535.9 782.9h0M1535.5 788.5h0M1225.9 582.3h0M1196.6 658.1h0M1191.4 655.5h0M1229.5 636.3h0M1307.1 616.5h0M1679.4 761.6h0M1450.1 510.7h0M1520.5 353.5h0M1255.4 615.6h0M1335.5 742.7h0M1333.1 747.6h0M1547.1 399.7h0M1564.4 562.7h0M1183.5 581.5h0M1203.5 737.6h0M1546.6 770.4h0M1558.6 687.0h0M1277.1 661.8h0M1214.7 582.4h0M1445.0 538.7h0M1463.9 431.8h0M1275.7 413.2h0M1278.7 418.3h0M1768.4 455.5h0M1217.2 533.5h0M1219.2 538.2h0M1842.4 846.3h0M1370.3 821.6h0M1434.5 839.6h0M1280.8 498.7h0M1532.7 877.3h0M1310.4 403.5h0M1318.7 616.6h0M1317.8 613.5h0M1510.2 675.8h0M1397.4 789.8h0M1443.7 600.4h0M1443.1 603.9h0M1429.6 608.8h0M1380.4 389.5h0M1411.6 592.1h0M1422.5 568.1h0M1728.7 603.9h0M810.4 857.5h0M1555.3 535.5h0M1356.6 516.6h0M1419.5 528.2h0M1324.0 637.5h0M1327.7 641.2h0M1437.4 480.0h0M1439.8 483.5h0M1505.0 558.6h0M1427.1 569.1h0M1481.5 483.9h0M832.1 570.3h0M1461.4 415.4h0M1619.3 755.3h0M1361.4 563.4h0M1699.3 646.0h0M1179.9 586.6h0M1350.6 565.8h0M1261.1 742.8h0M1259.2 737.2h0M1265.1 731.5h0M1308.9 694.7h0M1305.5 695.6h0M1301.8 695.0h0M1280.0 601.2h0M1462.6 811.2h0M1598.7 726.6h0M1517.1 714.5h0M1477.6 607.2h0M1474.8 602.3h0M1471.9 597.2h0M1325.3 696.3h0M1333.3 783.8h0M1650.7 625.9h0M1184.8 691.3h0M1208.0 616.9h0M1299.2 466.8h0M1394.3 704.1h0M1398.7 700.8h0M1710.2 568.7h0M1667.4 619.9h0M1451.8 417.6h0M1277.6 778.2h0M1535.1 580.8h0M1545.3 578.7h0M1406.0 510.8h0M1297.2 634.1h0M1301.1 630.4h0M1303.5 627.6h0M1217.2 692.5h0M1376.1 528.8h0M1341.2 750.9h0M1465.6 693.8h0M1306.9 705.9h0M1304.7 702.0h0M1505.6 723.2h0M1499.1 717.1h0M1633.4 696.3h0M1459.7 477.7h0M1366.0 388.7h0M1187.4 600.2h0M1183.7 600.9h0M1468.0 531.5h0M1547.7 854.7h0M1547.5 860.7h0M1545.1 865.7h0M1590.1 552.2h0M1756.9 761.4h0M1521.5 424.6h0M1566.5 447.4h0M1410.2 583.5h0M1383.2 568.8h0M1369.8 673.0h0M1373.9 742.5h0M1483.9 559.5h0M1186.5 499.4h0M1417.8 549.5h0M1452.0 650.6h0M1349.5 662.9h0M1166.6 489.5h0M1164.4 485.1h0M1638.9 599.4h0M1492.2 395.5h0M1364.5 673.5h0M1514.7 450.5h0M1369.3 514.9h0M1369.5 520.8h0M1480.3 768.1h0M1772.6 436.9h0M1677.0 803.8h0M1420.0 786.1h0M1416.6 785.6h0M1438.9 528.2h0M1530.1 671.1h0M1312.8 570.1h0M1540.7 538.0h0M1196.3 621.9h0M1498.8 483.7h0M1496.9 489.1h0M1433.0 495.3h0M1284.3 507.2h0M1352.8 615.4h0M1324.2 378.6h0M1468.0 564.4h0M1325.2 658.6h0M1321.7 660.5h0M1352.8 629.8h0M1349.0 629.5h0M1345.5 629.4h0M1342.7 625.2h0M1377.9 346.4h0M1494.7 504.1h0M1718.3 755.7h0M1411.7 800.1h0M1484.5 459.8h0M1191.2 608.8h0M1338.9 843.1h0M1221.3 616.1h0M1256.8 609.7h0M1352.2 797.8h0M1355.6 801.4h0M1360.1 804.4h0M1243.0 799.5h0M1542.9 456.7h0M1539.5 456.0h0M1536.1 456.8h0M1533.3 454.6h0M1393.0 752.4h0M1223.1 561.9h0M1451.5 516.2h0M1290.4 515.1h0M1156.3 634.7h0M1290.7 472.6h0M1285.1 472.5h0M1309.3 609.1h0M1470.1 666.0h0M1689.1 763.7h0M1296.1 500.5h0M1291.8 503.5h0M1240.3 625.0h0M1236.8 624.7h0M1348.1 737.3h0M1470.2 829.2h0M1294.9 571.2h0M1418.2 525.4h0M1287.9 565.4h0M1502.0 600.1h0M1553.3 553.2h0M1546.2 546.4h0M1295.1 786.5h0M1197.2 691.8h0M1417.3 394.8h0M1434.0 397.3h0M1914.3 769.9h0M1228.1 630.4h0M1294.3 713.5h0M1498.1 704.6h0M1457.1 640.3h0M1452.7 643.7h0M1572.0 491.1h0M1527.5 350.5h0M1453.5 686.5h0M1484.3 729.3h0M1159.5 555.8h0M1472.1 454.9h0M1761.1 583.3h0M1289.7 560.4h0M1450.6 545.1h0M1453.7 546.6h0M1503.1 487.0h0M1252.1 529.0h0M1636.7 806.2h0M1312.6 452.3h0M1404.7 722.9h0M1462.0 469.9h0M1298.0 593.5h0M1433.3 700.1h0M1437.6 702.2h0M1277.9 476.4h0M1429.8 762.6h0M1423.0 731.3h0M1428.4 732.5h0M1869.5 872.3h0M1567.1 573.9h0M1582.6 691.2h0M1533.5 578.0h0M1303.3 576.0h0M1455.8 700.9h0M1457.6 706.1h0M1538.8 370.4h0M1384.6 739.7h0M1469.1 714.3h0M1583.3 905.3h0M1477.8 790.4h0M1261.2 669.7h0M1506.5 550.7h0M1315.9 804.5h0M1283.4 654.9h0M1446.3 665.8h0M1317.5 632.1h0M1363.7 605.7h0M1161.1 468.2h0M1659.8 457.7h0M1671.7 587.8h0M1403.5 690.0h0M1406.7 689.1h0M1364.6 421.4h0M1362.9 416.8h0M1359.8 414.1h0M1591.4 610.5h0M1519.9 634.7h0M1371.4 805.1h0M1374.2 800.7h0M1238.1 658.3h0M1714.5 882.8h0M1409.2 497.7h0M1413.0 498.4h0M1422.7 564.5h0M1466.9 726.5h0M1426.8 678.2h0M1532.2 550.1h0M1569.2 508.7h0M1280.7 572.2h0M1325.7 369.4h0M1395.3 445.8h0M1480.0 613.6h0M1217.9 659.2h0M1543.0 638.6h0M1383.2 815.1h0M1265.3 463.0h0M1268.5 460.3h0M1454.0 758.8h0M1344.6 764.6h0M1353.1 716.1h0M1271.0 845.2h0M1586.3 630.8h0M1167.0 507.0h0M1247.6 665.2h0M1160.1 669.7h0M1516.4 497.5h0M1754.5 881.7h0M1221.3 659.5h0M1217.2 663.1h0M1538.4 461.1h0M1610.4 814.4h0M1440.4 463.0h0M1162.6 581.9h0M1281.8 690.4h0M1616.5 781.2h0M1348.1 752.7h0M1352.9 749.2h0M1258.2 811.2h0M1262.9 809.0h0M1296.6 443.3h0M1364.7 536.1h0M1407.6 610.2h0M1562.8 661.3h0M1260.8 542.1h0M1511.2 738.5h0M1261.4 560.8h0M1259.4 564.0h0M1370.4 600.9h0M1370.1 596.0h0M1361.5 585.8h0M1357.9 587.1h0M1574.7 515.5h0M1354.7 824.6h0M1221.0 693.1h0M1402.7 686.9h0M1476.8 737.3h0M1218.6 586.7h0M1668.8 758.4h0M1532.3 667.6h0M1196.8 739.1h0M1311.9 382.7h0M1425.8 658.8h0M1458.3 843.9h0M1297.3 462.7h0M1322.8 494.2h0M1489.6 684.4h0M1593.0 416.1h0M1480.1 657.9h0M1437.7 678.0h0M1374.8 760.7h0M1429.4 774.4h0M1234.7 684.0h0M1270.6 644.4h0M1401.6 669.8h0M1225.9 427.0h0M1508.9 638.9h0M1391.7 587.0h0M1659.2 707.2h0M1744.3 660.6h0M1300.1 646.4h0M1299.1 649.8h0M1560.0 476.6h0M1328.3 836.6h0M1295.3 676.1h0M1380.6 789.5h0M1542.9 518.4h0M1709.7 729.8h0M1552.7 594.9h0M1557.7 591.8h0M1377.4 862.3h0M1205.9 599.6h0M1406.1 749.6h0M1624.1 709.5h0M1380.8 756.4h0M1381.8 760.2h0M1285.8 774.8h0M1327.6 542.0h0M1420.3 769.2h0M1517.3 445.4h0M1199.6 740.4h0M1642.6 636.5h0M1158.7 580.4h0M1533.0 757.5h0M1528.3 638.7h0M1368.7 656.5h0M1320.6 525.4h0M1322.0 522.4h0M1452.8 741.9h0M1404.4 706.2h0M1408.5 706.4h0M1411.8 707.7h0M1417.4 705.9h0M1602.2 447.8h0M1617.2 514.7h0M1433.4 816.4h0M1724.3 662.0h0M1630.5 822.5h0M1473.5 423.4h0M1271.1 581.8h0M1234.0 545.9h0M1597.2 569.4h0M1345.9 620.0h0M1533.8 764.4h0M1425.8 647.7h0M1274.6 526.9h0M1430.0 433.7h0M1219.0 653.4h0M1406.5 649.5h0M1502.2 638.4h0M1374.9 593.8h0M1678.6 692.9h0M1460.6 450.2h0M1248.1 741.8h0M1317.2 687.6h0M1327.0 689.2h0M1542.5 823.6h0M1520.9 768.6h0M1424.4 597.2h0M1429.1 598.1h0M1581.7 451.3h0M1228.0 704.4h0M1230.6 702.4h0M1583.9 860.4h0M1430.4 809.1h0M1433.7 811.2h0M1289.2 825.8h0M1293.3 824.7h0M1361.1 355.6h0M1515.9 783.7h0M1327.2 664.9h0M1467.9 545.7h0M1407.0 810.6h0M1403.5 811.4h0M1493.6 657.2h0M1417.7 491.8h0M1567.0 728.8h0M1271.1 416.7h0M1339.8 533.5h0M1290.2 580.3h0M1283.9 661.6h0M1317.3 368.5h0M1687.1 424.7h0M1486.5 373.8h0M1492.5 377.8h0M1489.4 381.7h0M1235.2 816.3h0M1561.5 703.1h0M1521.7 489.7h0M1529.0 483.3h0M1560.0 413.5h0M1403.9 840.0h0M1301.6 711.1h0M1336.2 447.0h0M1192.4 488.0h0M1500.9 653.0h0M1505.1 653.5h0M1487.5 461.0h0M1311.4 719.5h0M1209.2 537.3h0M1205.2 533.9h0M1280.5 739.0h0M1412.5 634.2h0M1542.1 842.4h0M1475.5 757.1h0M1445.2 759.0h0M1442.8 378.4h0M1303.5 474.6h0M1306.6 476.2h0M1627.0 855.5h0M1259.5 690.5h0M1371.7 400.1h0M1568.5 398.3h0M1293.9 584.0h0M1282.4 787.0h0M1204.0 637.0h0M1467.5 442.2h0M1456.3 481.0h0M1455.1 484.4h0M1661.5 759.2h0M1315.9 762.4h0M1408.1 395.0h0M1366.9 546.0h0M1262.7 699.7h0M1465.4 555.6h0M1462.5 552.3h0M1549.6 507.8h0M1554.3 509.0h0M1382.3 650.0h0M1449.9 640.0h0M1450.5 636.2h0M1376.8 587.9h0M1380.0 584.0h0M1338.5 819.9h0M1341.5 822.8h0M1345.6 826.5h0M1850.2 670.2h0M1441.4 468.6h0M1430.8 665.5h0M1759.2 500.5h0M1351.6 805.5h0M1504.5 536.3h0M1342.4 727.3h0M1473.3 479.0h0M1477.3 477.0h0M1394.5 675.3h0M1471.9 729.1h0M1490.8 612.9h0M1457.8 870.4h0M1499.8 749.4h0M1608.0 836.3h0M1330.6 601.3h0M1341.3 600.6h0M1431.2 703.6h0M1433.4 707.9h0M1385.1 512.6h0M1317.6 663.9h0M1245.0 521.8h0M1250.8 521.2h0M1426.1 675.1h0M1517.7 878.0h0M1219.8 712.5h0M1502.1 499.9h0M1505.6 502.9h0M1539.4 716.2h0M1702.0 526.1h0M1386.2 441.6h0M1553.2 675.5h0M1262.6 598.1h0M1257.2 596.2h0M1253.9 594.7h0M1624.5 547.4h0M1545.4 538.9h0M1543.5 547.7h0M1199.0 760.8h0M1497.3 586.6h0M1389.4 563.5h0M1695.9 775.2h0M1365.0 829.4h0M1365.6 833.6h0M1447.9 450.1h0M1443.6 453.8h0M1346.4 372.1h0M1366.0 676.8h0M1360.5 675.4h0M1357.2 675.5h0M1356.8 671.7h0M1300.3 726.2h0M1611.6 606.4h0M1484.4 642.4h0M1394.4 520.9h0M1339.7 705.3h0M1467.1 656.8h0M1281.1 722.3h0M1243.2 543.0h0M1280.0 614.1h0M1281.5 611.1h0M1284.5 608.3h0M1286.4 605.7h0M1562.1 465.2h0M1512.4 535.4h0M1515.5 538.8h0M1435.2 681.6h0M1240.4 662.5h0M1237.1 663.3h0M1317.0 486.4h0M1320.5 486.0h0M1325.2 488.4h0M1328.6 490.2h0M1600.8 596.8h0M1477.1 732.6h0M1212.1 445.0h0M1181.8 679.9h0M1336.9 678.8h0M1593.7 532.4h0M1600.2 828.7h0M1552.7 720.9h0M1329.4 629.2h0M1381.8 398.3h0M1478.0 812.3h0M1504.2 544.3h0M1501.9 541.6h0M1521.8 418.8h0M1431.7 712.7h0M1234.4 690.8h0M1492.9 622.9h0M1465.0 577.3h0M1408.7 646.4h0M1412.4 648.6h0M1415.6 647.1h0M1441.0 662.6h0M1339.5 543.5h0M1342.7 515.7h0M1292.8 783.2h0M1468.0 674.5h0M1611.1 735.7h0M1605.4 735.0h0M1600.5 733.1h0M1281.4 556.7h0M1280.8 754.9h0M1253.2 734.4h0M1459.9 612.6h0M1461.2 616.2h0M1409.8 856.5h0M1454.5 371.2h0M1536.4 592.4h0M1637.4 621.6h0M1225.3 685.3h0M1221.5 686.4h0M1216.4 688.3h0M1269.1 623.5h0M1269.3 617.7h0M1502.4 461.1h0M1506.1 456.4h0M1346.3 591.1h0M1465.7 585.5h0M1400.6 738.3h0M1519.6 629.0h0M1417.1 653.8h0M1412.6 654.6h0M1483.1 777.7h0M1316.4 706.4h0M1466.1 412.9h0M1153.0 625.0h0M1293.8 618.1h0M1292.9 614.6h0M1217.7 513.7h0M1497.7 771.3h0M1353.9 704.0h0M1349.5 701.4h0M1331.5 822.0h0M1447.7 385.5h0M1496.7 723.1h0M1500.6 727.0h0M1502.4 731.4h0M1314.0 416.5h0M1261.2 499.4h0M1763.7 777.7h0M1159.2 895.2h0M1285.7 632.8h0M1290.1 633.3h0M1490.8 573.2h0M1607.6 591.7h0M1326.5 650.4h0M1362.4 610.3h0M1392.8 422.2h0M1499.1 469.6h0M1315.5 769.1h0M1467.7 745.7h0M1215.5 605.9h0M1649.5 531.3h0M1335.6 414.5h0M1180.6 432.3h0M1642.0 504.5h0M1192.8 605.7h0M1464.1 769.8h0M1464.6 766.0h0M1484.0 580.1h0M1340.6 629.4h0M1336.1 626.8h0M1433.6 601.1h0M1811.6 440.6h0M1631.4 712.9h0M1660.3 713.7h0M1657.2 722.2h0M1725.0 658.6h0M1473.5 656.2h0M1466.4 653.5h0M1718.4 732.4h0M1245.2 615.2h0M1363.2 403.4h0M1516.7 855.8h0M1133.2 692.8h0M1370.0 730.4h0M1366.1 732.0h0M1488.9 438.7h0M1492.1 440.8h0M1500.8 441.2h0M1357.9 384.9h0M1462.0 637.0h0M1280.9 725.7h0M1418.3 629.3h0M1616.0 691.7h0M1429.1 617.2h0M1526.5 538.2h0M1532.1 539.5h0M1259.4 749.6h0M1371.4 675.2h0M1231.8 695.6h0M1230.3 691.1h0M1404.2 745.4h0M1292.5 641.0h0M1362.6 591.4h0M1366.9 593.0h0M1302.2 609.8h0M1299.4 605.1h0M1299.2 601.5h0M1299.3 596.6h0M1854.1 779.5h0M1450.3 630.1h0M1594.7 645.5h0M1404.6 375.0h0M1331.9 687.5h0M1110.4 706.2h0M1268.5 671.4h0M1521.9 583.0h0M1457.7 710.5h0M1218.4 938.7h0M1614.7 476.8h0M1556.5 579.2h0M1493.5 478.2h0M1288.4 554.3h0M1393.1 802.2h0M1362.7 732.7h0M1365.2 736.1h0M1748.5 788.6h0M1358.0 729.6h0M1359.5 733.2h0M1362.1 735.6h0M1496.1 534.4h0M1460.3 435.6h0M1460.9 430.1h0M1459.6 425.4h0M1235.3 821.9h0M1373.1 507.0h0M1258.5 589.3h0M1325.4 753.7h0M1644.6 769.7h0M1336.8 806.4h0M1334.4 795.9h0M1330.4 717.4h0M1454.2 772.2h0M1272.6 730.3h0M1764.8 632.6h0M1371.6 535.8h0M1279.3 692.3h0M1455.1 795.5h0M1447.0 564.5h0M1547.0 464.8h0M1686.1 750.1h0M1671.0 494.8h0M1413.4 822.9h0M1718.9 666.8h0M1281.4 685.9h0M1387.1 814.5h0M1383.7 755.7h0M1335.5 706.0h0M1319.6 449.3h0M1352.9 431.3h0M1433.6 589.2h0M1377.7 822.5h0M1567.9 790.3h0M1424.6 669.6h0M1427.7 671.4h0M1432.1 672.0h0M1262.3 651.3h0M1263.5 646.1h0M1492.4 648.6h0M1390.0 700.6h0M1474.5 606.3h0M1373.5 716.6h0M1371.1 719.7h0M1367.8 719.8h0M1542.0 468.8h0M1490.3 518.8h0M1272.7 705.6h0M1274.1 701.4h0M1276.9 698.5h0M1313.4 808.3h0M1277.1 529.9h0M1152.4 683.2h0M1606.8 774.8h0M1323.2 733.7h0M1380.6 369.1h0M1712.4 608.3h0M1372.3 377.8h0M1369.8 374.8h0M1504.4 547.5h0M1508.2 545.5h0M1512.9 542.1h0M1267.3 407.5h0M1246.7 678.2h0M1249.8 677.0h0M1639.6 528.8h0M1398.7 661.6h0M1485.1 435.4h0M1257.7 780.7h0M1507.0 731.8h0M1504.5 729.2h0M1202.7 562.0h0M1533.5 415.3h0M1278.1 804.2h0M1235.6 582.0h0M1234.5 585.3h0M1241.2 517.4h0M1372.9 768.4h0M1578.8 531.1h0M1576.0 534.0h0M1274.4 611.8h0M1535.1 853.3h0M1513.5 586.3h0M1364.4 726.0h0M1366.0 722.5h0M1539.5 427.7h0M1246.5 681.0h0M1524.6 569.4h0M1589.1 582.0h0M1525.7 370.2h0M1530.4 518.6h0M1273.4 536.3h0M1578.7 653.4h0M1090.5 797.3h0M1440.9 479.3h0M1442.7 474.2h0M1437.8 473.3h0M1542.4 661.5h0M1426.3 609.5h0M1421.7 610.1h0M1580.6 660.1h0M1378.7 759.7h0M1465.2 637.1h0M1466.3 640.1h0M1522.5 641.6h0M1277.3 745.3h0M1524.8 581.5h0M1428.6 515.3h0M1429.7 511.7h0M1597.3 475.0h0M1593.0 473.8h0M1424.0 633.1h0M1617.9 679.8h0M1480.0 693.1h0M1673.7 762.2h0M1264.5 656.3h0M1387.5 648.7h0M1659.4 907.1h0M1685.5 653.1h0M1503.6 763.5h0M1298.1 617.0h0M1476.6 459.4h0M1448.9 694.6h0M1453.6 734.4h0M1325.1 569.5h0M1528.0 738.2h0M1534.0 737.8h0M1411.8 419.2h0M1236.0 562.4h0M1238.9 565.5h0M1238.4 570.7h0M1241.2 573.2h0M1353.5 385.3h0M1137.6 399.2h0M1534.2 474.9h0M1531.6 478.8h0M1509.5 400.4h0M1343.8 594.8h0M1347.4 595.5h0M1353.8 612.1h0M1325.5 817.6h0M1325.0 602.3h0M1287.6 816.6h0M1332.0 483.7h0M1316.1 666.5h0M1263.2 450.8h0M1340.3 754.1h0M1336.1 753.0h0M1454.0 750.0h0M1498.4 786.8h0M1429.2 354.6h0M1297.5 559.8h0M1396.2 668.0h0M1396.1 664.5h0M1214.8 624.2h0M1528.7 603.5h0M1524.4 729.1h0M1282.9 617.4h0M1172.9 524.3h0M1604.6 665.0h0M1510.7 564.8h0M1801.0 663.7h0M1369.4 586.4h0M1356.4 656.7h0M1361.9 656.7h0M1275.8 557.2h0M1381.6 805.4h0M1637.1 692.5h0M1641.7 691.0h0M1484.9 658.6h0M1484.7 654.4h0M1487.8 651.5h0M1251.4 724.1h0M1240.3 529.5h0M1512.2 611.1h0M1380.1 706.2h0M1472.9 409.7h0M1725.7 734.7h0M1754.0 791.5h0M1282.3 514.3h0M1478.0 512.9h0M1189.1 500.7h0M1278.2 631.0h0M1470.1 574.0h0M1538.8 807.7h0M1481.7 601.8h0M1559.3 482.7h0M1424.7 368.8h0M1426.3 363.8h0M1541.0 575.2h0M1367.9 437.3h0M1438.5 803.9h0M1466.5 690.3h0M1463.6 701.8h0M1063.9 593.0h0M1697.3 696.2h0M1301.9 439.8h0M1513.0 485.0h0M1557.8 819.1h0M1252.0 618.0h0M1226.4 555.8h0M1792.3 668.4h0M1261.6 586.0h0M1741.5 932.5h0M1344.4 539.2h0M1258.8 760.3h0M1863.1 666.3h0M1499.6 619.0h0M1584.6 827.5h0M1286.6 593.8h0M1614.8 455.5h0M1727.8 628.2h0M1351.0 706.1h0M1816.1 483.2h0M1387.4 642.7h0M1391.8 642.7h0M1167.8 643.1h0M1353.2 657.8h0M1350.4 655.2h0M1634.1 812.7h0M1472.6 843.5h0M1341.2 559.0h0M1355.8 719.3h0M1648.1 623.6h0M1223.3 504.5h0M1230.1 594.9h0M1356.0 399.0h0M1418.4 338.8h0M1216.1 552.2h0M1407.6 531.8h0M1247.0 506.8h0M1432.8 527.3h0M1566.4 417.6h0M1482.4 515.8h0M1630.7 765.1h0M1493.7 595.6h0M1504.0 551.9h0M1500.8 553.1h0M1118.0 435.5h0M1184.2 670.0h0M1402.7 576.7h0M1513.7 621.2h0M1393.5 541.2h0M1576.3 631.9h0M1392.2 812.7h0M1304.8 758.2h0M1754.8 538.0h0M1666.9 715.0h0M1670.5 716.6h0M1236.1 572.7h0M1466.9 464.6h0M1466.7 468.8h0M1434.6 433.0h0M1435.8 428.4h0M1382.3 630.0h0M1584.5 769.4h0M1586.4 772.8h0M1527.6 526.8h0M1410.4 485.6h0M1597.6 773.5h0M1583.6 564.0h0M1272.9 605.1h0M1448.6 521.9h0M1278.9 566.1h0M1407.1 443.9h0M1377.4 606.5h0M1373.6 605.3h0M1369.5 603.6h0M1308.5 586.5h0M1522.1 614.9h0M1344.7 494.6h0M1698.8 488.6h0M1377.8 670.0h0M1382.6 728.3h0M1382.3 746.9h0M1439.3 500.9h0M1442.5 499.5h0M1367.9 511.6h0M1641.4 760.6h0M1229.7 605.1h0M1442.4 673.6h0M1445.0 677.2h0M1186.5 714.6h0M1730.6 636.4h0M1450.1 493.7h0M1414.5 687.7h0M1410.4 688.4h0M1724.7 805.4h0M1295.9 644.2h0M1587.9 575.9h0M1296.7 737.4h0M1291.4 740.3h0M1500.7 518.8h0M1629.1 802.9h0M1462.4 516.4h0M1303.0 603.8h0M1307.3 604.0h0M1486.2 680.8h0M1307.8 835.2h0M1662.6 717.3h0M1401.3 684.0h0M1396.2 681.2h0M1504.6 531.0h0M1340.1 638.7h0M1344.9 642.2h0M1348.3 641.7h0M1624.6 888.5h0M1410.0 756.0h0M1410.3 759.7h0M1268.1 685.5h0M1244.7 718.1h0M1247.5 714.4h0M1386.1 536.9h0M1352.7 731.6h0M1276.4 830.7h0M1482.3 524.1h0M1484.2 518.7h0M1720.5 614.4h0M1736.1 689.6h0M1565.7 469.2h0M1258.8 660.2h0M1469.1 610.1h0M1280.6 479.4h0M1282.3 475.0h0M1372.4 438.8h0M1426.2 856.8h0M1274.6 493.3h0M1516.5 638.2h0M1194.9 611.8h0M1309.4 506.2h0M1202.6 553.6h0M1355.1 818.3h0M1505.9 435.9h0M1512.7 431.0h0M1258.4 742.1h0M1367.4 607.6h0M1224.9 713.5h0M1539.0 600.6h0M1735.0 538.6h0M1396.1 747.2h0M1400.9 746.1h0M1295.7 679.3h0M1621.0 698.9h0M1394.4 846.9h0M1397.8 844.8h0M1278.9 821.4h0M1273.6 822.7h0M1325.8 518.0h0M1122.8 576.2h0M1214.2 840.0h0M1365.0 652.0h0M1370.4 650.0h0M1372.2 645.4h0M1369.3 642.5h0M1320.1 714.9h0M1731.6 711.9h0M1725.8 738.3h0M1520.3 397.8h0M1326.7 876.3h0M1256.9 453.8h0M1470.1 461.9h0M1483.1 803.9h0M1477.8 563.1h0M1320.5 429.6h0M1308.1 430.1h0M1615.1 733.4h0M1500.8 565.0h0M1563.0 566.4h0M1560.6 569.3h0M1498.3 400.6h0M1493.7 402.7h0M1374.3 427.7h0M1250.8 608.6h0M1246.7 610.4h0M1241.1 608.5h0M1560.5 537.2h0M1563.8 536.7h0M1314.3 456.6h0M1258.5 633.2h0M1201.4 836.6h0M1190.5 506.2h0M1328.1 567.8h0M1480.8 676.2h0M1250.8 543.6h0M1443.0 466.2h0M1610.5 770.5h0M1393.5 617.4h0M1530.7 646.7h0M1305.3 658.8h0M1424.7 471.4h0M1407.8 783.7h0M1461.1 684.9h0M1300.9 626.3h0M1295.2 628.2h0M1493.1 584.7h0M1405.3 581.3h0M1401.1 584.8h0M1396.2 587.7h0M1530.3 696.8h0M1242.3 685.2h0M1360.0 539.6h0M1360.8 536.0h0M1425.7 511.0h0M1425.5 514.3h0M1423.8 519.9h0M1623.1 786.4h0M1268.7 480.8h0M1698.2 762.8h0M1225.5 636.7h0M1346.2 722.7h0M1427.4 442.8h0M1490.7 505.6h0M1485.7 507.2h0M1222.3 629.3h0M1301.6 743.0h0M1611.3 530.9h0M1552.3 381.9h0M1314.7 482.9h0M1669.8 854.3h0M1388.8 675.5h0M1741.3 830.5h0M1275.0 683.5h0M1161.3 480.1h0M1753.8 797.8h0M1366.0 598.9h0M1436.4 743.2h0M1437.1 747.6h0M1435.2 750.3h0M1350.3 400.2h0M1562.8 709.8h0M1558.2 711.7h0M1557.8 715.3h0M1746.5 424.9h0M1374.1 673.8h0M1188.9 632.7h0M1193.4 635.3h0M1198.5 635.8h0M1236.9 504.7h0M1445.3 741.7h0M1654.0 722.6h0M1309.4 499.6h0M1396.4 631.0h0M1393.1 633.7h0M1389.2 637.6h0M1385.6 639.1h0M1334.0 758.3h0M1186.7 495.1h0M1524.2 441.4h0M1438.4 691.6h0M1510.4 528.2h0M1514.6 531.9h0M1438.8 807.9h0M1504.9 679.0h0M1460.8 474.2h0M1528.3 596.6h0M1524.1 596.3h0M1514.8 464.8h0M1456.0 808.1h0M1267.6 556.5h0M1597.0 447.7h0M1231.3 632.6h0M1345.5 611.9h0M1288.7 628.2h0M1340.1 539.8h0M1402.0 401.7h0M1456.5 606.8h0M1487.8 399.8h0M1486.7 396.6h0M1275.1 616.3h0M1422.1 820.1h0M1398.7 516.6h0M1403.1 515.1h0M1453.1 716.2h0M1449.5 712.9h0M875.6 489.0h0M1677.2 673.2h0M1321.1 629.1h0M1323.4 632.5h0M1327.1 631.6h0M1487.3 479.9h0M1435.6 525.6h0M1474.2 682.5h0M1462.2 676.9h0M1210.1 575.4h0M1406.6 725.2h0M1568.2 677.9h0M1506.9 826.9h0M1305.5 508.6h0M1630.5 627.1h0M1835.8 716.7h0M1481.6 595.7h0M1225.3 616.1h0M1279.8 758.6h0M1251.7 478.1h0M1564.7 401.1h0M1456.6 651.8h0M1495.8 621.9h0M1492.2 774.1h0M1181.5 748.9h0M1487.2 706.3h0M1417.2 778.3h0M1438.4 446.0h0M1307.0 795.1h0M1264.8 716.3h0M1449.3 436.8h0M1507.1 579.1h0M1545.1 732.4h0M1356.7 828.9h0M1561.6 505.4h0M1349.2 585.0h0M1466.6 605.4h0M1551.8 740.8h0M1544.5 892.2h0M1640.1 518.8h0M1641.7 521.9h0M1485.1 695.7h0M1212.1 644.7h0M1212.1 640.4h0M1212.6 635.8h0M1408.6 476.5h0M1533.7 448.8h0M1537.9 445.6h0M1542.1 442.6h0M1403.0 537.1h0M1392.1 430.7h0M1473.1 872.0h0M1659.4 876.2h0M1657.0 880.0h0M1490.1 589.2h0M1309.1 727.7h0M1317.5 735.6h0M1379.4 751.9h0M1639.5 710.7h0M1636.9 714.3h0M1350.2 420.2h0M1833.7 685.0h0M1444.8 815.5h0M1472.6 614.5h0M1436.3 671.1h0M1238.2 621.9h0M1240.4 616.8h0M1367.4 648.7h0M1415.9 579.5h0M1474.3 483.6h0M1357.7 549.6h0M1361.0 751.9h0M1322.5 625.9h0M1320.8 621.7h0M1431.8 559.0h0M1407.2 660.1h0M1278.4 687.8h0M1487.7 482.7h0M1458.4 850.8h0M1309.3 678.2h0M1318.2 483.3h0M1441.1 579.8h0M1293.1 699.1h0M1377.2 689.9h0M1380.5 688.3h0M1382.2 685.6h0M1317.5 659.4h0M1539.0 651.7h0M1212.5 684.5h0M1215.9 681.9h0M1459.7 578.8h0M1460.8 572.9h0M1463.9 568.9h0M1628.7 702.7h0M1357.9 679.4h0M1473.2 580.8h0M1471.3 578.0h0M1444.6 725.8h0M1365.3 768.1h0M1466.3 748.7h0M1216.2 656.0h0M1385.5 684.3h0M1201.1 542.3h0M1211.4 534.2h0M1353.6 347.6h0M1583.2 460.1h0M1435.7 487.7h0M1496.3 736.8h0M1492.2 734.4h0M1382.5 674.3h0M1464.2 733.2h0M1462.9 736.5h0M1197.1 560.3h0M1438.3 618.4h0M1318.9 636.8h0M1204.7 559.8h0"/>
<path stroke="#ec860f" d="M1939.0 742.0h0M1743.9 919.2h0M1457.8 515.9h0M1867.4 841.2h0M1522.5 408.3h0M1594.7 830.7h0M1168.1 428.5h0M1457.1 351.8h0M1588.9 707.9h0M1669.9 700.9h0M1567.3 383.3h0M1469.5 372.4h0M1467.0 369.0h0M1315.3 472.6h0M1678.1 427.8h0M1494.4 732.5h0M1936.4 685.7h0M1931.3 691.5h0M1302.5 466.0h0M1884.4 587.4h0M1645.5 613.9h0M1556.3 810.3h0M1178.8 583.3h0M1272.4 410.5h0M1278.5 422.6h0M1852.7 847.7h0M1236.3 434.9h0M1856.1 787.7h0M1852.7 790.5h0M1528.0 873.6h0M1595.5 897.3h0M1383.5 391.3h0M1752.0 440.1h0M1383.4 878.4h0M1688.3 618.4h0M1582.7 480.5h0M1930.0 664.8h0M1797.6 580.1h0M1729.5 571.8h0M1733.7 577.8h0M1564.5 428.6h0M1178.8 703.7h0M1905.4 695.0h0M1459.5 419.7h0M1696.3 643.9h0M1179.2 590.4h0M1605.5 842.0h0M1328.9 812.6h0M1856.9 876.4h0M1958.1 694.3h0M1572.9 396.3h0M1572.6 401.0h0M1574.9 405.1h0M1235.9 455.9h0M1233.0 460.2h0M1541.3 580.6h0M1294.6 637.6h0M1502.7 463.8h0M1337.2 769.2h0M1940.5 748.4h0M1781.6 429.0h0M1906.5 648.8h0M1909.5 651.0h0M1913.8 653.6h0M1370.3 387.8h0M1508.7 663.4h0M1542.2 868.4h0M1214.0 501.2h0M1900.4 853.7h0M1897.1 849.2h0M1632.5 526.7h0M1702.8 899.0h0M1639.2 405.4h0M1635.8 403.9h0M1632.2 404.9h0M1627.3 401.8h0M1641.3 603.7h0M1253.3 380.2h0M1811.2 629.2h0M1820.4 624.2h0M1453.4 679.8h0M1615.7 738.6h0M1613.9 742.2h0M1569.6 406.5h0M1630.5 674.1h0M1428.9 780.5h0M1424.7 783.4h0M1927.3 601.2h0M1300.9 485.0h0M1030.9 910.5h0M1936.7 704.6h0M1931.9 707.2h0M1926.9 708.5h0M1923.0 709.0h0M1498.2 389.7h0M913.6 947.3h0M785.4 725.1h0M1252.4 769.5h0M1768.3 930.4h0M1820.9 642.7h0M1670.4 934.2h0M1242.1 463.9h0M1244.3 467.3h0M1893.8 653.9h0M1487.7 424.8h0M1280.0 471.2h0M1553.6 872.6h0M1553.6 880.7h0M1305.3 502.8h0M1300.8 502.6h0M1378.9 400.6h0M1375.7 397.0h0M1859.0 792.7h0M1893.3 820.9h0M1393.4 425.6h0M1892.7 592.5h0M1592.4 407.9h0M1588.6 407.8h0M1895.6 811.1h0M1493.4 512.3h0M1256.5 447.0h0M1257.6 442.1h0M1259.6 438.5h0M1550.1 363.6h0M1552.9 365.7h0M1397.3 426.3h0M1508.7 369.8h0M1505.8 373.7h0M1446.0 390.8h0M1874.5 443.4h0M1374.0 368.2h0M1373.0 371.7h0M1530.8 350.5h0M1654.7 713.3h0M1411.9 490.9h0M1217.7 833.6h0M1757.5 581.0h0M1179.1 626.9h0M1795.2 604.6h0M1164.7 396.0h0M1254.1 790.7h0M1548.6 424.1h0M1482.4 868.8h0M1697.3 858.0h0M1846.8 890.7h0M1417.5 362.0h0M1256.3 422.8h0M1252.5 421.2h0M1871.7 697.1h0M1642.0 430.6h0M1872.5 879.8h0M1327.5 842.9h0M1758.9 706.0h0M1866.7 724.5h0M1545.1 915.9h0M1543.1 921.1h0M1544.3 370.3h0M1549.8 372.1h0M1184.6 489.6h0M1829.9 808.2h0M1467.1 717.3h0M1280.1 414.2h0M740.2 577.2h0M1179.0 500.9h0M1175.9 498.6h0M1254.3 467.0h0M1608.4 812.3h0M1551.9 531.6h0M1213.0 826.6h0M1591.9 586.2h0M1662.0 511.1h0M1718.2 884.9h0M1920.2 660.9h0M1418.0 369.3h0M1685.5 921.0h0M1213.3 775.3h0M1844.1 561.3h0M1542.4 634.6h0M1485.5 752.2h0M1718.1 826.1h0M1329.7 769.1h0M1163.8 666.8h0M1625.9 432.3h0M1875.6 663.8h0M1415.6 818.6h0M1555.9 780.9h0M1480.7 437.1h0M1280.4 797.1h0M1558.7 845.4h0M1212.5 435.3h0M1299.6 436.1h0M1194.8 493.9h0M1605.5 416.8h0M1611.5 413.1h0M1919.6 735.9h0M1914.9 724.5h0M1592.7 801.6h0M1879.6 903.2h0M1721.7 422.3h0M1339.5 716.7h0M1817.2 428.3h0M1187.2 408.9h0M1727.1 405.4h0M1593.6 856.7h0M1732.4 858.7h0M1836.2 505.0h0M1674.4 589.9h0M1373.6 755.2h0M1576.0 712.5h0M1257.9 573.2h0M1896.3 600.8h0M1613.2 441.4h0M1530.3 838.9h0M1873.6 435.8h0M1702.9 639.2h0M1413.0 815.1h0M1320.5 499.8h0M1914.8 836.3h0M1719.4 739.9h0M1665.4 828.2h0M1626.3 880.6h0M1461.6 390.3h0M1185.1 525.5h0M1412.4 357.9h0M1918.9 507.3h0M1848.8 587.6h0M1586.1 753.3h0M1501.2 587.2h0M1416.8 478.5h0M1529.2 757.8h0M1307.1 400.3h0M1183.1 401.4h0M1428.2 847.7h0M1468.8 422.3h0M1268.5 508.8h0M1274.1 594.8h0M1380.2 596.6h0M1570.4 732.4h0M1524.2 383.2h0M1457.9 452.0h0M1323.0 687.6h0M1225.0 452.4h0M1436.1 813.6h0M1293.2 819.7h0M1768.8 610.0h0M1872.4 599.7h0M1874.1 603.3h0M1317.4 372.1h0M1491.4 374.3h0M1217.9 494.7h0M1562.5 409.2h0M1931.4 712.1h0M1932.4 716.1h0M1325.0 396.9h0M1268.4 552.9h0M1399.9 836.7h0M1282.2 485.4h0M1201.9 529.4h0M1299.2 441.0h0M1621.2 884.4h0M1416.5 608.8h0M1701.3 902.3h0M1217.9 462.8h0M1261.6 693.2h0M1775.2 639.2h0M1216.5 474.9h0M1420.9 325.2h0M1631.1 368.5h0M1258.5 373.1h0M1263.2 371.1h0M1501.4 683.5h0M1163.2 578.8h0M1677.8 666.9h0M1645.6 642.6h0M1232.4 557.4h0M1656.3 837.5h0M1853.6 666.6h0M1871.1 532.7h0M1094.2 596.8h0M1192.6 439.5h0M1191.9 442.9h0M1187.0 445.6h0M1451.5 374.4h0M1457.2 875.4h0M1335.5 600.2h0M1670.8 761.9h0M1851.9 550.2h0M1950.0 686.4h0M1948.2 683.3h0M1252.6 373.2h0M1615.6 420.3h0M1234.5 388.8h0M1239.7 391.4h0M1399.9 389.7h0M1365.0 826.6h0M1307.1 481.8h0M1612.1 610.6h0M1496.1 486.1h0M1291.6 408.6h0M1295.8 408.1h0M1284.4 718.1h0M1241.0 668.9h0M1433.0 678.3h0M1018.2 650.9h0M1572.3 387.7h0M1575.0 390.2h0M1298.8 358.4h0M1208.1 442.3h0M1017.0 879.1h0M1526.2 899.8h0M1370.9 384.4h0M1437.5 712.9h0M1903.5 745.8h0M1656.8 661.0h0M1685.7 624.1h0M1681.6 624.1h0M1676.8 622.6h0M1387.6 568.8h0M1475.8 672.4h0M1934.0 635.4h0M1230.5 435.7h0M1505.6 888.6h0M1937.4 633.7h0M1235.8 408.6h0M724.5 746.7h0M1938.3 698.7h0M1934.8 700.2h0M1221.6 513.9h0M1474.7 372.3h0M1473.8 368.3h0M1471.6 365.1h0M1875.8 802.9h0M1352.3 757.0h0M1780.7 559.3h0M1776.5 555.3h0M1836.5 702.4h0M1877.1 689.4h0M1213.8 400.8h0M1266.9 501.1h0M1765.0 772.9h0M1403.1 419.7h0M1516.0 842.5h0M1405.5 824.7h0M1725.9 850.3h0M1774.1 464.7h0M1387.0 422.3h0M1596.0 382.5h0M1586.2 383.9h0M1294.8 434.6h0M1917.2 686.9h0M1918.2 697.2h0M1863.0 581.3h0M1729.7 594.1h0M1725.5 591.9h0M1681.8 901.1h0M1344.7 846.0h0M1346.0 849.1h0M1813.9 713.6h0M1416.7 420.6h0M1184.7 436.1h0M1643.6 399.4h0M1465.7 762.1h0M1203.1 690.4h0M1578.5 366.2h0M1712.3 655.9h0M1612.3 574.1h0M1449.9 377.1h0M1232.2 515.5h0M1676.6 655.1h0M1724.8 666.5h0M1512.8 853.4h0M1934.4 648.5h0M1921.7 764.2h0M1361.7 385.9h0M1353.7 381.1h0M1930.8 764.5h0M1928.4 767.8h0M1386.8 412.4h0M1234.5 698.8h0M1284.6 384.4h0M1287.8 383.9h0M1862.2 857.4h0M1185.6 473.1h0M1311.8 439.9h0M1216.7 943.0h0M1753.5 787.9h0M1757.7 786.9h0M1595.2 379.2h0M1335.3 801.7h0M1702.5 913.8h0M1760.2 631.2h0M1896.4 549.1h0M1639.4 903.8h0M1367.6 812.4h0M1367.0 808.8h0M1337.2 452.6h0M1832.7 428.9h0M1682.2 748.1h0M1679.0 743.6h0M1411.2 818.0h0M1787.4 786.9h0M1852.8 703.0h0M1952.8 702.0h0M1350.2 428.6h0M1604.1 601.0h0M1767.6 926.7h0M1418.3 356.0h0M1205.9 519.1h0M1401.4 379.2h0M1490.9 897.3h0M1280.1 532.7h0M1687.3 835.7h0M1219.4 391.7h0M1217.5 395.7h0M1262.0 782.1h0M1889.2 698.9h0M1468.5 359.7h0M1503.7 458.3h0M1889.2 724.2h0M1240.7 513.6h0M1327.9 816.3h0M1259.7 475.3h0M1307.4 811.9h0M1543.0 422.9h0M1185.3 675.4h0M717.9 611.1h0M1408.7 727.6h0M1874.9 475.3h0M1339.1 494.3h0M1631.2 409.7h0M1644.2 432.4h0M1457.2 636.1h0M1459.3 794.2h0M1511.5 795.4h0M1169.8 663.2h0M1945.0 704.6h0M1940.5 707.8h0M1821.3 654.5h0M1227.0 822.2h0M1866.2 616.6h0M1416.8 675.2h0M1358.3 380.2h0M1685.8 709.5h0M1383.9 780.4h0M1913.4 780.1h0M1860.6 615.5h0M1436.6 862.9h0M1437.0 866.6h0M1568.0 862.2h0M1373.8 797.3h0M1340.2 761.5h0M1430.5 357.7h0M1527.0 732.7h0M1176.4 521.1h0M1171.1 529.0h0M1171.5 533.7h0M1797.3 655.4h0M1662.5 634.5h0M1600.9 707.5h0M1833.3 631.5h0M987.8 833.5h0M1719.9 632.6h0M1637.6 682.9h0M1562.1 622.2h0M1239.0 524.2h0M1271.3 367.7h0M1573.2 894.1h0M1281.0 517.3h0M1940.2 673.0h0M1940.8 669.6h0M1519.1 418.2h0M1927.1 775.8h0M1186.8 401.4h0M1442.7 801.0h0M1463.8 697.8h0M1645.8 896.3h0M1407.2 472.1h0M913.5 921.4h0M1881.5 739.9h0M1692.2 695.3h0M1277.7 485.5h0M1618.4 420.2h0M1330.0 382.4h0M1623.5 920.9h0M1909.1 832.7h0M1706.1 809.6h0M1321.6 459.7h0M1325.2 458.7h0M1327.7 454.5h0M1488.5 892.7h0M1241.3 433.5h0M1243.6 437.9h0M1730.0 624.8h0M1511.8 498.3h0M1909.1 665.4h0M1838.6 514.4h0M1842.4 723.5h0M1600.8 880.6h0M1603.9 882.3h0M1172.2 546.2h0M930.1 975.9h0M1381.0 770.1h0M1648.8 730.9h0M1227.5 602.3h0M1491.8 398.7h0M1634.3 374.1h0M953.6 918.7h0M1563.3 424.7h0M1921.6 651.5h0M1367.1 375.9h0M1894.3 796.2h0M1236.5 403.2h0M1573.5 904.6h0M1437.9 424.6h0M1241.2 388.1h0M1414.5 494.0h0M1635.3 639.4h0M1218.8 403.1h0M1419.9 384.3h0M1559.4 857.4h0M1230.0 784.9h0M1469.3 392.7h0M1471.3 387.4h0M1765.4 699.1h0M1835.2 643.2h0M1762.8 546.3h0M1443.8 387.5h0M1649.5 467.8h0M1393.9 406.0h0M1395.7 401.3h0M1767.1 685.4h0M1381.9 839.8h0M1888.5 822.4h0M1881.7 829.3h0M1966.0 441.9h0M1625.9 801.5h0M1737.0 818.7h0M1386.9 780.8h0M1615.5 415.2h0M1293.1 455.7h0M1887.7 544.7h0M1717.6 616.0h0M1550.3 781.9h0M1374.2 383.9h0M1912.8 700.0h0M1914.5 759.1h0M1165.7 458.1h0M1357.3 813.8h0M1689.7 913.7h0M1861.5 880.4h0M1620.3 639.5h0M1310.9 638.4h0M1558.8 387.8h0M1893.3 703.8h0M1894.3 699.7h0M1536.3 892.5h0M1253.4 410.0h0M1204.6 397.9h0M1738.4 715.0h0M1235.8 499.7h0M1216.1 843.4h0M1744.2 433.4h0M1817.3 811.6h0M1537.8 816.7h0M1645.9 845.8h0M1898.9 578.1h0M1171.5 430.5h0M1903.4 718.8h0M1907.0 721.0h0M1602.0 406.3h0M1579.1 838.6h0M1868.8 805.7h0M1866.3 801.2h0M1315.2 431.1h0M1311.5 429.6h0M1572.5 418.6h0M1910.1 610.3h0M1886.4 567.9h0M1657.9 650.6h0M1672.1 596.8h0M1671.6 600.0h0M1484.6 414.8h0M1622.8 604.6h0M1628.0 441.3h0M1585.5 891.9h0M1183.2 418.1h0M1137.3 846.1h0M1423.1 868.5h0M1893.3 680.1h0M1889.9 676.0h0M1294.2 373.2h0M1871.0 854.7h0M1906.9 732.0h0M1213.7 479.2h0M1311.5 366.9h0M1802.8 672.2h0M1409.5 362.4h0M1958.3 489.5h0M1958.7 483.8h0M1449.2 391.7h0M1189.3 741.9h0M1581.8 865.6h0M1003.8 632.0h0M1406.7 468.0h0M1380.5 623.9h0M1919.9 616.1h0M1550.4 385.3h0M1665.7 874.6h0M1847.5 909.9h0M1625.3 898.7h0M1684.0 533.8h0M1291.4 729.7h0M1801.8 810.2h0M1315.2 827.6h0M1310.7 826.5h0M1593.1 750.6h0M1481.4 383.7h0M1608.7 399.7h0M1612.6 397.8h0M1693.5 549.6h0M1674.3 722.2h0M1759.0 702.3h0M1440.4 811.7h0M1447.8 489.9h0M1825.9 707.5h0M1708.2 767.5h0M1757.8 490.9h0M1790.1 564.6h0M1793.9 568.5h0M1939.4 679.2h0M1615.0 841.0h0M1416.2 602.6h0M1491.1 403.7h0M1654.4 882.0h0M1193.5 657.3h0M1433.0 860.1h0M1183.2 809.3h0M1463.0 511.5h0M1604.2 799.3h0M1507.6 822.9h0M1670.4 684.9h0M1311.5 372.3h0M1277.0 732.8h0M1856.9 826.2h0M1634.5 631.5h0M1356.4 708.6h0M1614.5 763.5h0M1614.7 767.2h0M1884.3 745.8h0M1297.9 640.3h0M1254.9 475.4h0M1824.1 618.0h0M1688.9 636.1h0M1687.0 645.2h0M1306.5 846.1h0M1741.6 836.0h0M1685.0 694.7h0M1556.1 916.8h0M1311.1 792.9h0M1334.6 813.6h0M1516.3 875.3h0M1505.4 330.6h0M1826.5 838.7h0M1667.7 663.2h0M1279.3 377.7h0M909.9 946.8h0M1561.6 827.0h0M1710.2 651.5h0M1395.4 428.8h0M1374.5 750.0h0M1311.6 465.8h0M1902.7 818.8h0M1854.3 865.4h0M1126.2 539.8h0M1435.8 666.7h0M1827.8 576.1h0M1370.0 745.3h0M1849.8 720.3h0M1173.3 390.1h0M1170.4 388.3h0M1904.9 591.1h0M1610.2 410.0h0M1358.4 434.5h0M1315.1 479.6h0M1774.8 825.5h0M1946.0 736.9h0M1614.2 548.1h0M1185.8 455.8h0M1257.6 549.7h0M1891.9 771.3h0M1895.5 767.1h0M1202.5 536.6h0M1441.2 486.2h0M1707.4 585.6h0M1183.2 494.3h0"/>
<path stroke="#f5c514" d="M1585.3 396.9h0M1857.9 557.0h0M1584.9 585.6h0M1851.7 506.6h0M1851.4 502.9h0M1583.3 571.1h0M1749.2 569.5h0M1677.2 501.0h0M1839.4 450.5h0M1841.7 454.0h0M1699.3 437.7h0M1693.5 437.6h0M1538.0 586.7h0M1840.3 487.6h0M1682.8 424.4h0M1760.4 484.0h0M1831.8 494.3h0M1835.9 491.3h0M1937.8 681.4h0M1650.1 611.0h0M1765.4 453.0h0M1638.1 459.5h0M1523.9 478.3h0M1894.7 525.0h0M1687.8 441.0h0M1764.6 533.3h0M1906.2 504.7h0M1730.4 576.6h0M1738.5 576.1h0M1704.7 515.0h0M1743.5 922.4h0M1759.4 420.4h0M1761.6 416.2h0M1761.6 410.9h0M1766.5 410.5h0M1953.4 693.5h0M1648.8 631.4h0M1747.2 421.9h0M1668.9 624.1h0M1669.0 515.4h0M1672.4 518.4h0M1671.3 522.6h0M1690.2 639.7h0M1588.8 555.7h0M1626.8 527.6h0M1510.0 578.0h0M1737.8 475.2h0M1737.1 479.6h0M1588.2 570.5h0M1578.3 511.2h0M1707.9 412.7h0M1791.2 541.3h0M1785.9 539.9h0M1783.3 536.0h0M1565.4 503.5h0M1559.8 390.5h0M1706.3 529.9h0M1710.6 530.9h0M1714.3 526.5h0M1821.9 496.6h0M1703.8 618.4h0M1666.0 488.9h0M1670.3 490.2h0M1673.7 493.9h0M1663.6 438.8h0M1677.2 689.9h0M1655.0 519.7h0M1678.5 522.1h0M1814.6 577.5h0M1864.6 439.3h0M1696.3 557.0h0M1693.3 554.6h0M1682.5 629.4h0M1650.1 478.7h0M1650.6 441.1h0M1929.5 504.3h0M1925.3 501.6h0M1880.1 482.2h0M1875.1 480.3h0M1871.7 480.4h0M1869.9 484.9h0M1913.5 487.0h0M1642.4 492.8h0M1787.8 479.9h0M1783.1 477.8h0M1779.7 477.9h0M1776.5 476.9h0M1781.8 414.3h0M1567.4 623.4h0M1774.3 454.5h0M1765.6 462.9h0M1768.7 461.8h0M1624.0 633.2h0M1621.1 636.7h0M1712.1 482.7h0M1880.3 442.9h0M1830.6 475.5h0M1829.0 480.2h0M1828.1 483.8h0M1716.2 441.1h0M1721.1 443.5h0M1810.9 403.3h0M1538.6 412.8h0M1692.5 611.3h0M1726.3 536.7h0M1722.3 539.8h0M1669.8 430.7h0M1700.8 518.7h0M1701.2 515.0h0M1695.5 614.0h0M1534.3 574.6h0M1606.2 446.8h0M1606.5 452.0h0M1718.5 550.0h0M1691.9 772.6h0M1552.4 591.6h0M1699.1 503.4h0M1760.0 478.0h0M1786.7 435.9h0M1781.2 438.2h0M1850.4 533.2h0M1841.6 485.2h0M1656.0 460.9h0M1651.6 461.0h0M1596.7 504.6h0M1741.9 644.1h0M1670.6 581.4h0M1783.2 607.2h0M1732.2 484.0h0M1677.0 570.0h0M1791.0 424.9h0M1782.0 488.2h0M1623.4 624.6h0M1859.4 477.3h0M1798.9 454.1h0M1697.9 475.8h0M1693.9 472.0h0M1690.1 470.2h0M1685.6 471.3h0M1705.9 533.7h0M1661.7 469.1h0M1688.8 437.5h0M1691.1 440.8h0M1771.1 470.6h0M1859.8 436.3h0M1860.6 440.5h0M1861.3 446.0h0M1865.4 579.0h0M1609.1 415.7h0M1674.7 420.3h0M1570.4 517.0h0M1566.1 516.4h0M1581.1 474.8h0M1865.8 492.1h0M1866.3 487.8h0M1690.6 549.7h0M1814.4 424.9h0M1819.6 430.9h0M1739.7 465.1h0M1895.7 604.4h0M1874.7 431.8h0M1720.6 651.1h0M1723.4 493.8h0M1727.3 490.1h0M1730.5 490.0h0M1735.3 487.6h0M1541.5 521.3h0M1790.8 520.7h0M1782.0 493.1h0M1600.3 493.6h0M1656.2 522.6h0M1658.3 525.1h0M1918.1 504.0h0M1646.5 599.8h0M1651.1 597.7h0M1788.5 453.0h0M1861.4 539.1h0M1821.8 472.3h0M1869.8 423.3h0M1866.3 427.0h0M1860.9 574.9h0M1763.0 608.3h0M1819.1 831.6h0M1878.0 607.2h0M1881.2 611.2h0M1525.6 486.3h0M1772.2 498.4h0M1778.3 640.1h0M1687.2 541.9h0M1683.9 540.4h0M1680.2 536.4h0M1557.3 505.2h0M1634.7 467.6h0M1876.3 438.5h0M1755.1 501.5h0M1655.1 580.5h0M1836.6 532.6h0M1839.2 534.7h0M1869.3 530.0h0M1557.3 489.1h0M1829.6 645.3h0M1778.0 606.2h0M1700.2 612.3h0M1847.6 546.9h0M1581.5 427.1h0M1542.9 543.3h0M1812.5 642.4h0M1862.7 571.9h0M1859.6 569.2h0M1725.9 520.7h0M1546.3 481.6h0M1697.9 545.1h0M1562.0 398.4h0M1589.3 481.3h0M1898.6 471.7h0M1902.5 467.6h0M1825.6 505.1h0M1829.7 505.1h0M1739.3 408.0h0M1795.6 434.5h0M1800.2 435.0h0M1933.0 630.8h0M1937.4 639.6h0M1733.2 516.0h0M1738.1 517.5h0M1911.4 463.4h0M1914.8 464.3h0M1802.8 599.0h0M1789.0 441.9h0M1691.8 433.7h0M1748.9 610.2h0M1724.1 681.5h0M1754.8 415.6h0M1692.5 530.2h0M1805.0 548.0h0M1591.7 382.0h0M1719.6 592.5h0M1853.5 535.3h0M1518.1 466.5h0M1549.6 458.3h0M1724.0 549.3h0M1724.9 553.4h0M1727.6 556.5h0M1677.4 660.0h0M1638.1 453.6h0M1712.2 488.8h0M1497.0 439.0h0M1845.5 500.4h0M1727.2 476.5h0M1604.0 397.9h0M1805.5 478.1h0M1615.2 472.6h0M1616.8 467.3h0M1857.0 427.3h0M1855.8 422.3h0M1615.4 395.8h0M1754.2 631.4h0M1820.9 475.7h0M1819.4 478.7h0M1855.4 449.3h0M1547.7 460.9h0M1708.4 495.0h0M1773.6 581.5h0M1721.1 669.1h0M1703.0 495.0h0M1707.6 491.5h0M1717.3 492.1h0M1603.6 607.0h0M1802.5 514.5h0M1844.4 507.2h0M1679.0 504.9h0M1733.4 510.3h0M1739.3 509.7h0M1587.6 467.5h0M1942.1 488.1h0M1504.6 465.8h0M1731.6 503.7h0M1588.1 533.1h0M1583.4 531.0h0M1527.7 424.0h0M1525.9 420.9h0M1680.1 510.9h0M1585.1 491.7h0M1582.8 496.8h0M1588.0 504.4h0M1723.2 486.5h0M1537.7 433.0h0M1871.9 476.8h0M1678.7 549.9h0M1682.7 547.5h0M1761.5 619.7h0M1832.1 531.4h0M1827.2 529.6h0M1898.3 532.3h0M1538.3 487.4h0M1807.6 435.4h0M1835.8 448.9h0M1687.1 419.6h0M1577.9 462.0h0M1758.3 545.7h0M1546.9 368.8h0M1518.9 489.3h0M1782.7 590.5h0M1640.4 685.4h0M1760.5 596.7h0M1728.4 551.9h0M1619.8 567.8h0M1624.6 570.0h0M1747.0 579.0h0M1690.1 475.5h0M1535.8 604.1h0M1768.0 517.8h0M1630.5 397.6h0M1616.5 438.0h0M1601.1 454.2h0M1736.6 453.9h0M1613.9 461.1h0M1717.0 505.8h0M1712.3 506.4h0M1643.4 632.8h0M1651.9 622.8h0M1629.6 379.1h0M1631.9 376.3h0M1638.8 372.0h0M1936.0 650.8h0M1564.4 421.7h0M1532.9 507.8h0M1571.3 530.4h0M1758.4 535.0h0M1621.7 453.2h0M1638.6 644.4h0M1691.0 484.4h0M1643.8 562.4h0M1968.3 491.2h0M1705.3 482.8h0M1702.8 484.9h0M1698.2 494.0h0M1838.3 645.3h0M1767.5 549.3h0M1770.5 552.9h0M1762.5 458.2h0M1630.7 603.2h0M1599.4 443.0h0M1879.4 525.8h0M1805.2 566.0h0M1802.9 557.4h0M1736.9 550.6h0M1838.9 541.4h0M1620.6 506.0h0M1886.4 540.0h0M1642.0 607.8h0M1691.0 446.8h0M1570.1 511.3h0M1673.5 415.0h0M1592.4 571.7h0M1601.6 435.2h0M1829.0 461.2h0M1625.0 444.0h0M1619.4 443.6h0M1719.5 496.1h0M1721.9 490.9h0M1508.9 432.8h0M1516.5 427.9h0M1720.7 473.1h0M1521.1 431.0h0M1713.4 561.2h0M1718.9 558.9h0M1760.6 503.6h0M1739.6 710.9h0M1588.7 522.6h0M1750.1 432.6h0M1752.7 430.1h0M1661.5 608.5h0M1811.4 567.7h0M1810.3 563.6h0M1661.6 433.0h0M1721.7 741.8h0M1674.9 544.0h0M1768.5 592.7h0M1619.4 482.5h0M1662.5 453.4h0M1549.3 618.1h0M1667.0 602.2h0M1671.3 484.8h0M1779.6 565.9h0M1617.5 604.4h0M1626.1 607.2h0M1726.3 577.8h0M1803.6 491.9h0M1848.8 554.2h0M1655.2 486.1h0M1908.1 585.0h0M1743.6 624.3h0M1694.0 535.8h0M1563.9 527.1h0M1755.5 482.0h0M1706.6 504.4h0M1785.6 603.4h0M1749.8 426.9h0M1757.9 435.4h0M1696.1 540.8h0M1689.3 554.0h0M1833.5 540.6h0M1674.3 564.0h0M1523.0 447.1h0M1524.8 450.6h0M1694.2 545.1h0M1654.6 444.7h0M1653.9 440.1h0M1840.1 584.7h0M1763.0 450.6h0M1761.0 489.5h0M1643.8 481.4h0M1646.3 484.8h0M1637.9 526.3h0M1771.7 607.2h0M1928.9 461.7h0M1931.1 465.0h0M1822.7 535.3h0M1823.7 603.6h0M1546.3 615.3h0M1750.4 573.8h0M1637.0 550.0h0M1861.1 553.0h0M1769.2 436.3h0M1629.3 511.1h0M1943.1 477.2h0M1945.9 474.0h0M1858.3 471.7h0M1742.2 556.2h0M1812.9 564.5h0M1669.8 593.8h0M1830.6 572.1h0M1832.8 567.6h0M1650.6 414.7h0M1670.5 708.6h0M1768.9 443.0h0M1773.1 443.9h0M1550.4 439.2h0M1764.7 642.3h0M1879.8 440.0h0M1566.2 588.0h0M1655.3 604.4h0M1833.2 482.6h0M1621.2 501.8h0M1622.0 497.4h0M1628.5 496.8h0"/>
<path stroke="#1dc340" d="M1752.8 926.6h0M1806.9 578.8h0M1814.8 806.5h0M1935.1 689.8h0M1770.5 577.5h0M1791.7 804.0h0M1788.4 799.9h0M1848.7 793.1h0M1790.9 701.8h0M1845.5 673.3h0M1724.3 600.0h0M1804.8 633.4h0M1801.6 632.0h0M1706.6 519.9h0M1803.4 772.8h0M1693.2 644.8h0M1790.1 671.3h0M1786.7 691.5h0M1824.8 770.7h0M1757.5 766.4h0M1806.4 629.5h0M1815.9 627.2h0M1736.8 651.4h0M1856.6 800.4h0M1769.7 748.9h0M1769.2 744.3h0M1767.2 739.7h0M1849.0 781.0h0M1772.7 726.5h0M1895.7 755.0h0M1893.0 751.1h0M1864.0 790.7h0M1781.0 584.3h0M1728.0 740.6h0M1771.2 904.4h0M1864.8 722.5h0M1781.0 866.9h0M1919.6 648.0h0M1841.6 751.3h0M1793.9 609.5h0M1780.3 829.1h0M1784.0 828.2h0M1862.5 726.1h0M1798.2 652.6h0M1808.3 679.3h0M1848.8 770.2h0M1714.2 552.6h0M1801.3 612.4h0M1815.8 704.8h0M1669.9 584.8h0M1781.8 603.4h0M1820.2 638.7h0M1884.0 727.8h0M1798.8 798.1h0M1795.4 796.5h0M1806.1 800.5h0M1816.7 661.3h0M1814.9 799.4h0M1790.7 722.0h0M1844.8 703.5h0M1781.0 766.1h0M1841.6 608.1h0M1745.3 664.9h0M1710.0 733.3h0M1768.0 864.2h0M1847.4 615.0h0M1715.8 736.4h0M1852.2 583.8h0M1909.0 758.2h0M1903.5 758.9h0M1803.9 636.7h0M1806.6 641.9h0M1807.4 645.5h0M1830.6 721.3h0M1876.7 744.6h0M1735.8 859.0h0M1732.1 535.2h0M1910.3 660.1h0M1844.2 711.2h0M1900.4 765.1h0M1700.3 805.9h0M1807.6 837.1h0M1811.3 837.8h0M1782.4 634.8h0M1799.3 739.6h0M1825.9 645.1h0M1702.3 609.7h0M1811.5 819.1h0M1923.6 742.7h0M1774.3 678.2h0M1879.1 646.2h0M1876.1 641.4h0M1806.0 601.8h0M1727.0 882.8h0M1879.1 824.1h0M1877.8 820.3h0M1728.5 681.1h0M1799.0 764.1h0M1759.5 783.8h0M1835.3 582.9h0M1801.8 655.2h0M1917.1 692.2h0M1920.0 701.5h0M1857.5 616.1h0M1861.8 619.5h0M1811.3 709.6h0M1815.4 716.7h0M1907.1 809.5h0M1794.9 741.7h0M1814.3 920.4h0M1814.0 701.8h0M1831.2 870.7h0M1747.2 797.3h0M1725.0 909.9h0M1727.1 764.9h0M1815.2 697.9h0M1727.1 655.8h0M1819.5 798.1h0M1781.9 611.9h0M1758.4 881.3h0M1864.1 542.6h0M1851.3 699.0h0M1777.1 635.4h0M1882.2 541.2h0M1756.9 600.5h0M1847.1 627.2h0M1840.1 678.5h0M1853.0 645.5h0M1735.8 696.1h0M1806.4 796.3h0M1815.8 796.7h0M1820.3 794.1h0M1736.0 703.8h0M1908.5 826.6h0M1737.0 752.9h0M1744.8 769.6h0M1762.7 792.7h0M1800.4 670.2h0M1764.9 662.1h0M1801.6 659.3h0M1733.0 700.9h0M1765.5 596.2h0M1730.5 555.5h0M1784.9 687.8h0M1937.6 709.8h0M1822.6 704.8h0M1895.2 718.3h0M1831.9 733.1h0M1725.7 742.3h0M1793.9 665.2h0M1725.9 632.5h0M1839.4 519.5h0M1896.9 522.2h0M1752.1 541.9h0M1789.1 584.3h0M1942.1 704.7h0M1801.1 804.7h0M1770.9 708.7h0M1729.3 803.2h0M1765.2 688.9h0M1804.0 562.5h0M1721.0 610.1h0M1936.7 765.4h0M1767.9 813.4h0M1766.4 808.1h0M1870.8 709.6h0M1743.6 710.3h0M1736.4 718.2h0M1812.6 572.1h0M1725.6 745.1h0M1699.1 729.6h0M1700.7 726.5h0M1827.2 810.0h0M1812.5 658.0h0M1748.1 693.4h0M1769.0 810.4h0M1915.7 624.2h0M1826.3 626.8h0M1770.7 777.9h0M1745.2 725.2h0M1743.2 721.8h0M1739.6 718.3h0M1882.5 767.2h0M1809.3 788.6h0M1813.4 791.1h0M1729.8 755.5h0M1812.5 606.5h0M1818.2 605.0h0M1826.4 607.8h0M1672.4 674.5h0M1834.3 707.2h0M1834.7 711.7h0M1835.1 721.3h0M1889.8 746.8h0M1849.0 709.3h0M1788.8 731.2h0M1793.6 727.9h0M1726.2 787.6h0M1664.8 665.9h0M1819.2 775.4h0M1698.5 755.2h0M1816.1 655.0h0M1798.4 646.2h0M1761.1 639.3h0M1835.1 679.9h0M1764.0 575.2h0M1844.6 719.8h0M1841.4 715.8h0M1779.8 843.5h0M1752.3 751.0h0"/>
<path stroke="#b95cf0" d="M1228.2 860.6h0M1199.8 870.8h0M1276.2 750.0h0M1172.0 681.0h0M1180.9 684.0h0M1219.3 762.5h0M1146.3 822.4h0M1123.8 635.6h0M1251.4 790.2h0M1138.1 658.9h0M1261.9 748.0h0M1206.0 790.9h0M1149.4 853.7h0M1116.2 588.1h0M1114.4 583.4h0M989.7 938.5h0M1194.2 822.9h0M1140.6 870.5h0M1184.8 696.6h0M1096.9 704.1h0M1179.4 861.1h0M1085.5 790.3h0M1206.1 798.8h0M1202.8 802.4h0M1133.5 850.4h0M1066.7 826.2h0M1226.3 753.4h0M848.5 513.5h0M1119.7 826.5h0M1021.6 871.9h0M1211.1 711.4h0M1237.0 850.3h0M1242.0 851.1h0M1195.8 695.8h0M1160.4 560.7h0M1181.5 630.7h0M1130.5 871.7h0M1191.3 816.8h0M1110.7 804.8h0M1238.9 826.3h0M1128.7 939.9h0M1209.0 776.5h0M1271.5 850.0h0M1156.7 484.8h0M1061.3 811.0h0M1110.1 903.0h0M1186.2 911.8h0M1275.1 663.8h0M1182.1 759.4h0M1198.8 733.7h0M1133.6 895.4h0M1197.6 846.5h0M1125.7 797.0h0M1220.2 782.8h0M1038.5 861.0h0M1271.9 720.2h0M1245.4 748.0h0M1199.5 745.9h0M1189.4 718.5h0M1217.0 783.6h0M1223.5 652.3h0M1165.5 776.1h0M1161.7 776.2h0M1151.1 917.3h0M1129.6 922.2h0M1241.7 742.5h0M1238.4 814.7h0M1268.9 748.5h0M1279.7 791.7h0M1248.6 786.6h0M1119.9 834.2h0M1251.0 815.7h0M795.7 773.3h0M968.7 854.5h0M1194.8 759.4h0M1178.1 748.6h0M1271.9 775.3h0M1267.7 774.9h0M1255.5 739.5h0M1271.2 799.5h0M1272.9 803.3h0M1212.5 692.6h0M1215.3 790.9h0M1214.5 794.3h0M1211.9 796.5h0M1184.1 650.9h0M1241.2 765.2h0M1180.0 892.4h0M1182.1 752.1h0M1173.4 718.8h0M1171.4 715.6h0M1168.9 710.3h0M1163.2 894.7h0M1194.9 833.9h0M1191.5 833.2h0M1188.5 859.6h0M1184.5 876.6h0M1273.8 763.7h0M852.4 886.3h0M1133.5 687.4h0M985.7 727.7h0M1167.1 829.6h0M1168.8 835.1h0M1287.7 785.5h0M1168.1 771.0h0M1195.5 730.9h0M1210.4 762.7h0M1241.9 815.5h0M1090.0 872.3h0M1167.2 801.9h0M1175.3 776.7h0M1174.5 779.8h0M1258.2 728.2h0M1163.3 715.5h0M1266.0 831.7h0M1174.4 660.6h0M1266.2 702.5h0M1174.4 772.6h0M956.8 840.6h0M1155.3 792.9h0M1187.1 753.2h0M1062.2 925.6h0M1277.7 741.0h0M1212.6 810.4h0M1176.5 844.9h0M1255.3 725.8h0M1227.9 797.6h0M1253.4 796.0h0M1172.8 851.1h0M1224.2 782.4h0M1202.2 748.8h0M1275.2 767.0h0M1266.8 753.3h0M1145.9 653.9h0M1182.3 525.7h0M1171.1 799.7h0M1038.8 762.2h0M1095.2 885.4h0M1230.7 789.1h0M1190.8 805.6h0M1159.2 880.2h0M1163.0 883.4h0M1218.2 703.2h0M1204.6 770.2h0M1138.4 552.5h0M1010.2 791.9h0M878.5 536.0h0M1105.6 969.4h0M1204.7 832.1h0M1141.7 837.1h0M1190.2 736.8h0M1198.7 769.2h0M1238.0 770.3h0M1272.0 808.9h0M1162.4 820.5h0M1133.0 829.8h0M1180.4 781.9h0M1164.8 764.0h0M1162.9 761.0h0M1237.4 699.2h0M1261.2 794.3h0M1144.5 855.0h0M1205.5 705.1h0M1173.4 888.5h0M1278.7 766.8h0M1134.6 923.4h0M1216.2 771.1h0M1157.4 943.4h0M1176.3 853.1h0M1149.1 799.4h0M1176.2 753.4h0M1243.1 785.2h0M1159.1 771.2h0M1263.9 751.0h0M1242.9 666.6h0M1194.7 564.0h0"/>
<path stroke="#dba0ae" d="M1593.7 711.5h0M1492.2 604.0h0M1547.1 714.5h0M1569.4 627.2h0M1608.7 827.9h0M1257.5 702.9h0M1511.3 648.4h0M1515.9 710.6h0M1502.7 724.4h0M1557.4 702.9h0M1538.4 582.3h0M1502.9 718.8h0M1643.0 751.7h0M1275.8 636.5h0M1857.1 734.0h0M1639.7 804.7h0M1649.0 725.9h0M1480.3 764.9h0M1331.7 566.8h0M1471.6 560.1h0M1583.1 740.2h0M1285.3 513.3h0M1475.6 666.1h0M1692.1 761.7h0M1587.7 604.7h0M1632.5 635.1h0M1628.1 634.3h0M1497.0 700.7h0M1572.6 815.4h0M1509.0 711.0h0M1430.7 756.7h0M1619.5 717.1h0M1530.5 581.8h0M1663.9 844.6h0M1506.9 613.9h0M1548.0 534.9h0M1560.0 837.4h0M1622.3 628.8h0M1620.5 777.0h0M1489.6 752.4h0M1618.7 586.9h0M1508.8 690.0h0M1621.7 434.1h0M1554.9 784.0h0M1546.1 636.7h0M1704.2 854.3h0M1558.1 497.9h0M1592.7 650.0h0M1590.0 647.9h0M1566.1 658.3h0M1627.9 705.8h0M1577.4 912.6h0M1472.3 741.1h0M1471.9 825.3h0M1434.8 774.1h0M1576.6 707.2h0M1402.6 666.3h0M1396.6 672.6h0M1589.6 806.9h0M1523.1 778.6h0M1559.2 586.5h0M1255.6 432.6h0M1535.4 761.3h0M1589.3 751.3h0M1599.4 740.2h0M1430.3 818.9h0M1403.2 734.8h0M1597.1 575.1h0M1611.2 801.9h0M1673.2 695.2h0M1645.2 548.8h0M1453.5 454.8h0M1499.0 528.4h0M1495.9 744.7h0M1657.8 736.8h0M1516.8 775.7h0M1567.4 740.3h0M1567.1 734.6h0M1674.0 812.0h0M1496.6 652.2h0M1528.6 589.2h0M1472.2 753.7h0M1665.0 759.2h0M1520.5 733.4h0M1515.0 733.5h0M1511.8 734.9h0M1613.6 490.6h0M1857.7 726.2h0M1387.5 515.5h0M1452.5 441.1h0M1945.7 679.8h0M1620.9 549.1h0M1567.8 782.3h0M1476.8 621.5h0M1366.4 380.5h0M1472.2 675.3h0M1532.8 595.5h0M1569.8 574.1h0M1500.7 769.5h0M1813.7 448.1h0M1640.6 426.0h0M1558.8 530.0h0M1622.8 747.0h0M1618.2 745.2h0M1659.3 718.2h0M1657.0 725.8h0M1513.2 848.1h0M1508.8 752.3h0M1506.1 754.4h0M1466.0 676.9h0M1210.9 484.0h0M1591.2 606.5h0M1480.2 622.9h0M1611.5 400.4h0M1655.0 762.2h0M1567.9 749.6h0M1569.5 744.8h0M1390.0 553.2h0M1714.6 665.1h0M1621.6 903.8h0M1597.9 631.5h0M1640.7 741.3h0M1638.7 750.4h0M1906.3 669.2h0M1812.4 797.5h0M1584.9 499.8h0M1582.0 744.7h0M1599.8 664.8h0M1490.2 763.3h0M1650.4 721.5h0M1218.1 506.1h0M1405.5 523.0h0M1621.9 812.5h0M1775.2 550.3h0M1523.9 561.6h0M1529.9 609.2h0M1531.0 736.6h0M1604.4 660.3h0M1606.6 708.3h0M1608.2 603.6h0M1709.5 806.9h0M1496.0 615.0h0M1637.2 813.7h0M1518.6 741.5h0M1646.5 629.0h0M1646.2 733.1h0M1644.3 737.8h0M1558.6 807.7h0M1554.1 804.4h0M1537.6 507.4h0M1634.0 761.5h0M1667.9 761.6h0M1662.5 763.9h0M1540.4 632.0h0M1583.4 765.6h0M1466.2 596.8h0M1387.6 749.0h0M1495.7 451.4h0M1622.6 802.6h0M1653.1 742.4h0M1507.4 761.9h0M1569.6 683.4h0M1559.3 718.1h0M1494.4 496.5h0M1584.0 846.8h0M1470.4 467.1h0M1484.3 676.9h0M1611.0 775.6h0M1526.9 646.5h0M1655.9 655.7h0M1573.6 666.9h0M1626.2 782.1h0M1561.8 833.9h0M1566.4 829.3h0M1627.0 737.3h0M1450.5 387.1h0M1225.2 633.3h0M1547.4 758.4h0M1713.3 716.4h0M1668.9 765.4h0M1596.7 752.7h0M1520.1 822.5h0M1523.9 818.4h0M1439.9 524.9h0M1599.9 795.3h0M1682.7 715.2h0M794.7 871.4h0M1461.1 654.0h0M1624.4 653.0h0M1664.7 675.8h0M1665.3 671.0h0M1716.6 763.8h0M1516.8 690.3h0M1547.8 683.2h0M1671.5 792.7h0M1606.6 729.5h0M1570.7 760.3h0M1444.3 582.2h0M1364.9 773.8h0M1600.1 644.0h0M1581.5 432.2h0M1565.6 842.9h0"/>
<path stroke="#1fb9c4" d="M1591.6 832.1h0M1454.2 515.5h0M1647.8 803.7h0M1793.5 866.8h0M1661.7 880.0h0M1685.1 761.7h0M1769.1 804.8h0M1522.7 874.3h0M1752.9 802.3h0M1805.9 808.5h0M1259.3 731.4h0M1781.0 692.5h0M1823.4 896.2h0M1617.9 589.8h0M1561.8 448.5h0M1410.3 782.4h0M1718.2 759.2h0M1719.4 763.0h0M1454.7 739.0h0M1707.6 897.7h0M1082.4 859.6h0M1625.7 875.8h0M1567.1 802.5h0M1458.8 677.2h0M1862.6 651.6h0M1558.8 673.6h0M1640.5 862.6h0M819.2 623.0h0M1553.7 875.9h0M1552.4 884.4h0M1783.8 780.2h0M1452.2 459.0h0M1504.3 605.3h0M760.0 721.0h0M1550.0 549.2h0M1120.3 948.0h0M1341.9 765.0h0M1645.0 890.0h0M1702.4 829.1h0M1704.8 834.0h0M1610.7 390.0h0M1574.1 819.8h0M1576.9 821.9h0M1538.5 819.6h0M1366.0 837.3h0M1537.9 536.1h0M1667.8 425.5h0M1699.9 862.6h0M1846.6 885.0h0M1757.8 854.3h0M1587.8 902.4h0M1643.1 826.6h0M1643.5 822.2h0M1650.7 845.9h0M1444.8 783.6h0M1683.9 756.4h0M1384.4 818.6h0M1781.2 847.9h0M1632.3 863.5h0M1465.3 787.2h0M1686.2 851.2h0M1477.8 892.0h0M1482.5 862.9h0M1221.6 590.1h0M1539.6 399.5h0M1486.5 722.4h0M1308.9 378.7h0M1590.1 852.8h0M1453.5 847.3h0M1448.1 772.1h0M1733.5 863.1h0M1606.0 389.5h0M1649.2 888.2h0M731.7 690.0h0M1769.0 868.9h0M1630.6 884.1h0M1635.2 882.0h0M1638.7 881.0h0M1540.6 761.6h0M1752.6 812.0h0M1761.5 781.1h0M1652.3 797.3h0M1684.9 780.3h0M1694.9 835.2h0M1069.2 610.0h0M1585.8 855.2h0M1439.1 818.6h0M1525.7 902.5h0M1399.3 807.2h0M1008.4 522.6h0M1709.7 922.5h0M1697.5 802.7h0M1700.2 907.9h0M1545.1 845.2h0M1648.3 858.3h0M1624.4 857.7h0M1692.9 803.0h0M1639.5 823.0h0M1593.5 874.9h0M1272.7 788.9h0M1815.8 826.8h0M1764.9 828.4h0M1463.0 789.0h0M1598.1 858.6h0M1335.4 675.0h0M983.5 714.1h0M1798.4 838.5h0M1677.0 849.7h0M1103.9 650.5h0M1567.1 924.1h0M1324.5 385.8h0M1196.0 519.5h0M1604.6 808.7h0M1643.5 903.2h0M1628.3 716.5h0M1611.5 695.6h0M1735.7 784.6h0M1477.8 581.8h0M1584.6 474.8h0M1361.4 745.0h0M1646.8 766.6h0M1651.4 763.6h0M1703.2 910.4h0M1743.8 852.9h0M1636.1 900.3h0M1719.1 860.9h0M1691.2 900.2h0M1667.5 863.2h0M1556.5 833.3h0M1684.0 828.7h0M1686.0 823.8h0M1815.8 851.6h0M1617.9 903.1h0M1493.6 899.7h0M891.2 818.5h0M1803.6 799.1h0M1768.7 875.7h0M1682.6 836.5h0M1104.8 892.9h0M1399.9 505.1h0M1640.5 746.8h0M1692.4 807.9h0M1516.4 797.9h0M1399.5 802.9h0M1419.9 737.4h0M1486.2 765.8h0M1769.1 648.3h0M1741.9 764.5h0M1707.2 873.6h0M1481.4 887.0h0M1592.0 729.5h0M1575.7 924.7h0M1577.8 921.2h0M1680.7 831.3h0M1666.2 831.3h0M1659.1 828.1h0M1654.1 827.8h0M1630.2 811.4h0M1624.8 811.0h0M1494.2 783.7h0M1642.7 893.6h0M1580.6 905.0h0M1701.0 699.9h0M1610.2 703.9h0M1754.7 855.8h0M1624.0 793.9h0M1546.2 333.3h0M1625.3 924.0h0M1515.4 660.4h0M1916.9 642.4h0M1597.8 882.4h0M1553.3 831.0h0M1757.6 711.4h0M1709.1 830.3h0M1705.4 826.7h0M1373.7 857.5h0M1556.9 848.9h0M1558.9 851.7h0M1600.8 755.4h0M1692.6 880.0h0M1618.4 859.9h0M1619.7 803.1h0M1529.5 877.2h0M1639.1 755.6h0M1540.4 645.8h0M1722.8 809.4h0M1706.4 815.1h0M1441.1 435.8h0M1835.1 878.6h0M1678.8 698.4h0M1654.3 725.4h0M1620.0 900.8h0M1352.4 728.1h0M1431.3 791.2h0M1633.3 794.8h0M1642.5 880.6h0M1475.1 827.0h0M1586.0 896.8h0M1689.0 806.9h0M1739.2 873.9h0M1563.2 830.1h0M1567.4 526.5h0M1281.9 641.2h0M1471.6 792.5h0M1801.1 793.3h0M1665.2 849.5h0M1664.5 852.6h0M1736.9 833.3h0M1472.4 734.1h0M1074.6 896.1h0M1739.0 812.1h0M1739.3 807.4h0M1633.6 903.7h0M1164.9 787.3h0M1637.5 838.6h0M1326.4 824.1h0M1660.7 854.1h0M1488.4 819.6h0M1488.4 823.2h0M1489.7 828.0h0M1485.2 828.9h0M1695.1 895.6h0M841.0 669.3h0M1469.6 679.5h0M1342.6 715.6h0M1174.9 891.7h0M1566.3 795.9h0M1739.2 838.4h0M1744.1 826.8h0M1847.3 830.8h0M1723.6 791.7h0M1558.1 825.7h0M1553.9 825.5h0M1550.4 824.4h0M1511.4 807.0h0M1675.2 789.9h0M1271.2 666.2h0M1686.7 843.4h0M1535.9 912.0h0M1364.5 747.6h0M1371.4 749.9h0M1511.1 814.2h0M1622.3 573.8h0M1537.6 827.6h0M1699.5 867.8h0"/>
<path stroke="#ee55b4" d="M1882.7 796.5h0M1835.9 810.3h0M1850.9 879.7h0M1811.7 918.4h0M1857.1 844.9h0M1847.4 849.0h0M1850.0 853.3h0M1720.7 867.3h0M1634.4 803.3h0M1699.1 843.2h0M1801.5 847.8h0M1891.9 800.9h0M1849.2 818.6h0M1803.4 838.8h0M1790.0 828.1h0M1872.3 867.3h0M1869.8 876.7h0M1740.1 924.4h0M1782.9 843.9h0M1785.9 841.8h0M1861.8 849.2h0M1824.3 871.1h0M1797.2 858.6h0M1804.8 907.2h0M1654.1 904.0h0M1839.4 866.0h0M1836.6 864.1h0M1870.0 888.1h0M1744.7 837.8h0M1739.1 856.5h0M1841.4 831.7h0M1822.8 857.8h0M1826.2 853.1h0M1807.7 819.7h0M1768.4 828.7h0M1794.2 816.1h0M1813.0 846.7h0M1807.7 843.7h0M1852.6 860.5h0M1716.0 874.0h0M1671.5 833.7h0M1730.3 884.2h0M1794.3 836.8h0M1727.9 846.3h0M1731.0 844.2h0M1763.4 873.1h0M1721.4 909.7h0M1847.8 844.3h0M1826.2 848.9h0M1851.2 866.4h0M1814.9 907.0h0M1811.7 906.1h0M1743.5 856.5h0M1719.6 864.2h0M1763.9 882.0h0M1812.5 853.1h0M1791.8 970.3h0M1763.5 877.3h0M1842.1 909.8h0M1865.2 873.2h0M1789.3 812.4h0M1903.8 824.0h0M1815.5 848.5h0M1856.6 873.2h0M1725.1 919.0h0M1843.0 843.4h0M1779.0 860.1h0M1860.9 892.6h0M1693.4 883.5h0M1885.8 825.3h0M1772.9 857.3h0M1700.9 816.9h0M1834.2 882.2h0M1833.2 876.0h0M1824.3 812.8h0M1846.3 898.5h0M1866.1 846.1h0M1854.4 871.6h0M1793.6 922.5h0M1647.8 882.3h0M1836.5 844.4h0M1686.8 810.1h0M1825.6 805.9h0M1847.3 833.9h0M1872.1 859.4h0M1886.0 876.5h0M1809.2 832.0h0M1814.4 831.4h0M1769.9 900.5h0M1757.1 860.1h0M1832.3 743.6h0M1858.1 820.5h0M1813.8 886.3h0M1778.8 849.0h0M1768.3 907.9h0M1673.4 883.3h0M1799.0 881.3h0M1796.3 877.8h0M1796.4 873.1h0M1797.0 868.0h0M1791.9 902.8h0M1789.8 898.6h0M1820.9 852.6h0M1745.9 834.0h0"/>
<path stroke="#e6e6e6" d="M1722.8 626.3h0M1702.7 621.6h0M805.6 691.3h0M1753.5 505.1h0M1728.7 651.3h0M1518.7 436.8h0M1365.5 418.2h0M1340.9 456.2h0M1823.7 630.2h0M1772.5 696.4h0M1269.4 716.7h0M1536.0 562.9h0M961.5 870.8h0"/>
</g>
<path stroke="#2b9df4" stroke-opacity=".16" stroke-width="2.6" d="M1289.2 548.2h0M1320.0 532.5h0M1323.9 543.5h0M1293.0 537.2h0M1296.6 523.7h0M1322.8 530.2h0M1301.9 526.1h0M1309.7 525.2h0M1308.3 553.1h0M1312.3 553.2h0M1290.8 543.2h0M1298.3 555.2h0M1292.3 540.2h0M1299.0 546.2h0M1321.8 522.9h0M1294.4 519.1h0"/>
<circle cx="1306" cy="536" r="5.6" fill="#2b9df4"/>
<path stroke="#f5c514" stroke-opacity=".16" stroke-width="2.6" d="M1870.8 447.6h0M1881.2 444.8h0M1870.4 461.6h0M1900.7 469.3h0M1900.3 469.4h0M1869.2 455.1h0M1871.1 460.7h0M1901.7 469.5h0M1898.9 458.6h0M1878.6 442.3h0M1896.4 459.2h0M1894.7 464.0h0M1899.5 456.0h0M1905.4 455.1h0M1871.6 462.4h0M1896.8 459.6h0"/>
<circle cx="1886" cy="459" r="6.2" fill="#f5c514"/>
<path stroke="#ec860f" stroke-opacity=".16" stroke-width="2.6" d="M1584.8 674.9h0M1595.5 663.0h0M1616.0 672.4h0M1587.0 693.8h0M1593.1 674.9h0M1585.1 673.9h0M1607.5 694.2h0M1605.4 673.8h0M1608.5 692.2h0M1612.3 673.1h0M1610.4 682.6h0M1616.8 671.7h0M1616.5 683.0h0M1605.5 667.4h0M1589.4 666.0h0M1597.2 692.8h0"/>
<circle cx="1600" cy="683" r="6.2" fill="#ec860f"/>
<path stroke="#1dc340" stroke-opacity=".16" stroke-width="2.6" d="M1928.5 803.3h0M1925.8 823.3h0M1937.8 796.6h0M1960.2 805.1h0M1953.1 830.9h0M1928.8 826.9h0M1949.9 801.6h0M1924.3 817.0h0M1927.3 812.0h0M1956.0 802.8h0M1944.3 832.0h0M1939.8 804.8h0M1932.5 800.4h0M1956.6 806.1h0M1932.4 812.1h0M1946.9 835.5h0"/>
<circle cx="1943" cy="816" r="6.6" fill="#1dc340"/>
<path stroke="#f03c55" stroke-opacity=".16" stroke-width="2.6" d="M744.9 610.3h0M782.8 607.1h0M752.9 594.5h0M748.2 610.8h0M759.1 621.2h0M763.9 624.5h0M778.0 613.4h0M749.9 620.7h0M774.6 623.0h0M757.5 622.0h0M749.2 619.1h0M758.6 598.8h0M768.1 598.2h0M778.0 610.4h0M755.0 618.0h0M752.7 607.2h0"/>
<circle cx="764" cy="612" r="5.4" fill="#f03c55"/>
<path stroke="#f03c55" stroke-opacity=".16" stroke-width="2.6" d="M904.5 882.6h0M895.8 910.7h0M898.7 911.8h0M882.5 883.9h0M886.4 881.2h0M886.6 904.2h0M895.6 916.4h0M906.5 900.3h0M900.8 912.2h0M887.8 888.4h0M910.1 908.8h0M887.2 902.1h0M880.4 885.5h0M901.2 882.3h0M905.7 887.6h0M888.6 882.9h0"/>
<circle cx="897" cy="896" r="7.6" fill="#f03c55"/>
<circle cx="1373" cy="472.7" r="31.6" fill="#1e2126" stroke="#dadadc" stroke-width="1.7"/><circle cx="1373" cy="472.7" r="6.2" fill="#2b9df4"/>
</svg>
<svg width="2560" height="1280" viewBox="0 0 2560 1280" fill="none">
<rect x="744" y="925.3" width="1153.8" height="39.4" rx="19.7" fill="#1e2126" stroke="#45474c" stroke-width="1.5"/>
<path d="M836.5 940.3 L836.5 950.3" stroke="#606166" stroke-width="1.8"/>
<path d="M846.3 940.3 L846.3 950.3 L838.3 945.3 Z" fill="#606166"/>
<path d="M864.6 940.5 L864.6 950.1 L857 945.3 Z" fill="#606166"/>
<path d="M878 940.3 L878 950.3 L885.8 945.3 Z" fill="#b4b5b8"/>
<circle cx="911" cy="945.2" r="12.6" fill="#26282d" stroke="#e2e2e4" stroke-width="1.7"/>
<circle cx="911" cy="945.2" r="6.3" fill="#2b9df4"/>
<circle cx="944.4" cy="945.3" r="2.9" fill="#2b9df4"/>
<circle cx="977.6" cy="945.3" r="2.9" fill="#2b9df4"/>
<circle cx="1010.7" cy="945.3" r="2.9" fill="#2b9df4"/>
<circle cx="1043.9" cy="945.3" r="2.9" fill="#2b9df4"/>
<circle cx="1077.0" cy="945.3" r="2.9" fill="#2b9df4"/>
<circle cx="1110.2" cy="945.3" r="2.9" fill="#2b9df4"/>
<circle cx="1143.4" cy="945.3" r="2.9" fill="#ec860f"/>
<circle cx="1176.5" cy="945.3" r="2.9" fill="#2b9df4"/>
<circle cx="1209.7" cy="945.3" r="2.9" fill="#2b9df4"/>
<circle cx="1242.8" cy="945.3" r="2.9" fill="#ec860f"/>
<circle cx="1276.0" cy="945.3" r="2.9" fill="#2b9df4"/>
<circle cx="1309.2" cy="945.3" r="2.9" fill="#2b9df4"/>
<circle cx="1342.3" cy="945.3" r="2.9" fill="#2b9df4"/>
<circle cx="1375.5" cy="945.3" r="2.9" fill="#2b9df4"/>
<circle cx="1408.6" cy="945.3" r="2.9" fill="#ec860f"/>
<circle cx="1441.8" cy="945.3" r="2.9" fill="#2b9df4"/>
<circle cx="1475.0" cy="945.3" r="2.9" fill="#2b9df4"/>
<circle cx="1508.1" cy="945.3" r="2.9" fill="#2b9df4"/>
<circle cx="1541.3" cy="945.3" r="2.9" fill="#1fb9c4"/>
<circle cx="1574.4" cy="945.3" r="2.9" fill="#2a92e4"/>
<circle cx="1607.6" cy="945.3" r="2.9" fill="#2778c2"/>
<circle cx="1640.8" cy="945.3" r="2.9" fill="#1a5a66"/>
<g stroke="#3f4146" stroke-width="1.5" fill="none" stroke-linecap="round" stroke-linejoin="round"><path d="M1698.3 939.5 A8 8 0 1 0 1699.8 948.5"/><path d="M1694 935.3 L1698.8 939.6 L1693.5 941.8"/><path d="M1690 945.5 h.1 M1695.5 945.5 h.1 M1701.5 945.5 h.1" stroke-width="2"/><path d="M1855.5 951.5 L1853.3 943.3 L1867.5 943.3 L1868.5 951.5 Z M1857 943 L1857 940 L1870.5 940 L1870.5 950.5 L1868.5 950.5"/></g>
<path d="M1779 933.5 L1784.7 942 L1773.3 942 Z M1779 957 L1784.7 948.7 L1773.3 948.7 Z" fill="#8e8f93"/>
<path d="M1818 952.3 C1812 947.5 1810.8 944.5 1810.8 942.6 C1810.8 938.2 1816.3 937.6 1818 941.3 C1819.7 937.6 1825.2 938.2 1825.2 942.6 C1825.2 944.5 1824 947.5 1818 952.3 Z" stroke="#d2d2d4" stroke-width="1.6" fill="none" stroke-linejoin="round"/>
<rect x="1995" y="323.7" width="40" height="464.8" rx="20" fill="#1e2126" stroke="#44464b" stroke-width="1.5"/>
<circle cx="2015" cy="426.0" r="2.2" fill="#3f4146"/>
<circle cx="2015" cy="459.2" r="2.2" fill="#3f4146"/>
<circle cx="2015" cy="492.3" r="2.2" fill="#3f4146"/>
<circle cx="2015" cy="525.5" r="2.2" fill="#3f4146"/>
<circle cx="2015" cy="558.7" r="2.2" fill="#3f4146"/>
<circle cx="2015" cy="591.9" r="2.2" fill="#3f4146"/>
<circle cx="2015" cy="625.0" r="2.2" fill="#3f4146"/>
<circle cx="2015" cy="658.2" r="2.2" fill="#3f4146"/>
<circle cx="2015" cy="691.4" r="2.2" fill="#3f4146"/>
<circle cx="2015" cy="724.5" r="2.2" fill="#3f4146"/>
<path d="M2009.3 760.4 L2020.7 760.4 M2015 754.7 L2015 766.1" stroke="#c2c3c6" stroke-width="1.5"/>
<rect x="1995" y="848.4" width="40" height="116.3" rx="20" fill="#1e2126" stroke="#44464b" stroke-width="1.5"/>
<g stroke="#c5c6c8" stroke-width="1.5" fill="none" stroke-linecap="round"><circle cx="2016" cy="872.2" r="6.6"/><path d="M2011.3 877 L2007.3 880.8 M2012.8 872.2 L2019.2 872.2 M2016 869 L2016 875.4"/><circle cx="2016" cy="907.9" r="6.6"/><path d="M2011.3 912.7 L2007.3 916.5 M2012.8 907.9 L2019.2 907.9"/><path d="M2007.5 938.5 L2007.5 935.4 L2011 935.4 M2019.5 935.4 L2023 935.4 L2023 938.5 M2023 943.8 L2023 946.9 L2019.5 946.9 M2011 946.9 L2007.5 946.9 L2007.5 943.8" stroke-linecap="butt" stroke-linejoin="miter" stroke-width="1.7"/></g>
<path d="M660.3 1010 L1416.6 1010 M1427.3 1010 L2056.6 1010" stroke="#36383d" stroke-width="1.3"/>
<path d="M665.3 1023.6 L665.3 1066.5" stroke="#2b8ee0" stroke-width="2.2"/><path d="M669.3 1033.4 L669.3 1056.4" stroke="#2b8ee0" stroke-width="2.1"/>
<path d="M673 1041.6 L673 1048.2" stroke="#2b8ee0" stroke-width="2"/>
<path d="M675.2 1044.8 L714.5 1044.8" stroke="#2b8ee0" stroke-width="3.8" stroke-dasharray="1.8 2.3"/>
<path d="M736.0 1061.5 A27.8 27.8 0 0 1 791.6 1061.5" stroke="#2668ad" stroke-width="2" fill="none"/>
<circle cx="763.8" cy="1033.7" r="3.6" fill="#1e2126" stroke="#2668ad" stroke-width="1.9"/>
<path d="M940.4 1061.5 A27.8 27.8 0 0 1 996.0 1061.5" stroke="#2668ad" stroke-width="2" fill="none"/>
<circle cx="968.2" cy="1033.7" r="3.6" fill="#1e2126" stroke="#2668ad" stroke-width="1.9"/>
<path d="M1017.5 1061.5 A27.8 27.8 0 0 1 1073.1 1061.5" stroke="#1f5288" stroke-width="2" fill="none"/>
<path d="M1045.3 1033.7 A27.8 27.8 0 0 1 1063.2 1040.2" stroke="#2b9df4" stroke-width="2.1" fill="none"/>
<circle cx="1064.4" cy="1041.3" r="3.6" fill="#1e2126" stroke="#4db0ff" stroke-width="1.9"/>
<path d="M1187.2 1061.5 A27.8 27.8 0 0 1 1242.8 1061.5" stroke="#2668ad" stroke-width="2" fill="none"/>
<circle cx="1215.0" cy="1033.7" r="3.6" fill="#1e2126" stroke="#2668ad" stroke-width="1.9"/>
<path d="M1996.2 1061.5 A27.8 27.8 0 0 1 2051.8 1061.5" stroke="#1f69ad" stroke-width="2" fill="none"/>
<circle cx="2022.3" cy="1033.8" r="3.6" fill="#1e2126" stroke="#2b9df4" stroke-width="1.9"/>
<path d="M736.8 1026 V1033 M741 1026 V1029 M787.4 1026 V1029 M791 1026 V1033" stroke="#2668ad" stroke-width="1.9"/>
<path d="M944 1025.8 V1028.6 M940.8 1030.5 V1032.2 M992.4 1025.8 V1028.6 M995.6 1030.5 V1032.2" stroke="#1e5a90" stroke-width="1.8"/>
<path d="M821 1061.8 L821 1042.8 L914.5 1061.5" stroke="#1f5a90" stroke-width="1.9" fill="none" stroke-linejoin="miter"/>
<path d="M1104.5 1045 L1161 1045" stroke="#2470c2" stroke-width="5" stroke-linecap="round"/>
<circle cx="1163.4" cy="1034.4" r="3.4" stroke="#2668ad" stroke-width="1.9" fill="none"/><circle cx="1102" cy="1055.6" r="3.4" stroke="#2668ad" stroke-width="1.9" fill="none"/>
<circle cx="1280" cy="1035.7" r="8.7" stroke="#1f62a3" stroke-width="2" fill="none"/><circle cx="1302.8" cy="1035.6" r="2.3" fill="#2b9df4"/>
<path d="M1272.5 1056.2 L1286.5 1056.2 M1281.3 1051 L1286.5 1056.2 L1281.3 1061.4" stroke="#2668ad" stroke-width="2" fill="none" stroke-linecap="round" stroke-linejoin="round"/>
<circle cx="1357" cy="1033.7" r="3.2" stroke="#2668ad" stroke-width="2" fill="none"/><path d="M1361 1033.7 L1411.5 1033.7" stroke="#2668ad" stroke-width="2"/>
<circle cx="1357" cy="1056.2" r="3.2" stroke="#2668ad" stroke-width="2" fill="none"/><path d="M1361 1056.2 L1411.5 1056.2" stroke="#2668ad" stroke-width="2"/>
<path d="M1443.5 1041.5 C1446.5 1044 1447.5 1048.3 1450 1048.3 C1453 1048.3 1453 1041.8 1456 1041.8 C1458.3 1041.8 1459.5 1045.5 1462 1047.8" stroke="#1f62a3" stroke-width="1.9" fill="none" stroke-linecap="round"/>
<rect x="1476.2" y="1030.6" width="18.8" height="28.9" fill="#1e4a72"/>
<polygon points="1485.6,1034.8 1493.9,1039.9 1493.9,1050.1 1485.6,1055.2 1477.3,1050.1 1477.3,1039.9" fill="#1e2126" stroke="#2679ca" stroke-width="2.1"/>
<circle cx="1485.6" cy="1066.2" r="1.8" fill="#1f4f7e"/>
<polygon points="1509.5,1034.8 1517.8,1039.9 1517.8,1050.1 1509.5,1055.2 1501.2,1050.1 1501.2,1039.9" fill="#1e2126" stroke="#2679ca" stroke-width="2.1"/>
<circle cx="1509.5" cy="1066.2" r="1.8" fill="#1f4f7e"/>
<polygon points="1533.3,1034.8 1541.6,1039.9 1541.6,1050.1 1533.3,1055.2 1525.0,1050.1 1525.0,1039.9" fill="#1e2126" stroke="#1f60a0" stroke-width="2.1"/>
<circle cx="1533.3" cy="1066.2" r="1.8" fill="#1f4f7e"/>
<polygon points="1557.2,1034.8 1565.5,1039.9 1565.5,1050.1 1557.2,1055.2 1548.9,1050.1 1548.9,1039.9" fill="#1e2126" stroke="#1f60a0" stroke-width="2.1"/>
<circle cx="1557.2" cy="1066.2" r="1.8" fill="#1f4f7e"/>
<rect x="1571.7" y="1030.6" width="18.8" height="28.9" fill="#1e4a72"/>
<polygon points="1581.1,1034.8 1589.4,1039.9 1589.4,1050.1 1581.1,1055.2 1572.8,1050.1 1572.8,1039.9" fill="#1e2126" stroke="#2369b0" stroke-width="2.1"/>
<circle cx="1581.1" cy="1066.2" r="1.8" fill="#1f4f7e"/>
<polygon points="1604.9,1034.8 1613.2,1039.9 1613.2,1050.1 1604.9,1055.2 1596.6,1050.1 1596.6,1039.9" fill="#1e2126" stroke="#1f60a0" stroke-width="2.1"/>
<circle cx="1604.9" cy="1066.2" r="1.8" fill="#1f4f7e"/>
<polygon points="1628.8,1034.8 1637.1,1039.9 1637.1,1050.1 1628.8,1055.2 1620.5,1050.1 1620.5,1039.9" fill="#1e2126" stroke="#1f60a0" stroke-width="2.1"/>
<circle cx="1628.8" cy="1066.2" r="1.8" fill="#1f4f7e"/>
<polygon points="1652.7,1034.8 1661.0,1039.9 1661.0,1050.1 1652.7,1055.2 1644.4,1050.1 1644.4,1039.9" fill="#1e2126" stroke="#1f60a0" stroke-width="2.1"/>
<circle cx="1652.7" cy="1066.2" r="1.8" fill="#1f4f7e"/>
<rect x="1667.2" y="1030.6" width="18.8" height="28.9" fill="#1e4a72"/>
<polygon points="1676.6,1034.8 1684.9,1039.9 1684.9,1050.1 1676.6,1055.2 1668.3,1050.1 1668.3,1039.9" fill="#1e2126" stroke="#2369b0" stroke-width="2.1"/>
<circle cx="1676.6" cy="1066.2" r="1.8" fill="#1f4f7e"/>
<polygon points="1700.4,1034.8 1708.7,1039.9 1708.7,1050.1 1700.4,1055.2 1692.1,1050.1 1692.1,1039.9" fill="#1e2126" stroke="#1f60a0" stroke-width="2.1"/>
<circle cx="1700.4" cy="1066.2" r="1.8" fill="#1f4f7e"/>
<polygon points="1724.3,1034.8 1732.6,1039.9 1732.6,1050.1 1724.3,1055.2 1716.0,1050.1 1716.0,1039.9" fill="#1e2126" stroke="#1f60a0" stroke-width="2.1"/>
<circle cx="1724.3" cy="1066.2" r="1.8" fill="#1f4f7e"/>
<polygon points="1748.2,1034.8 1756.5,1039.9 1756.5,1050.1 1748.2,1055.2 1739.9,1050.1 1739.9,1039.9" fill="#1e2126" stroke="#1f60a0" stroke-width="2.1"/>
<circle cx="1748.2" cy="1066.2" r="1.8" fill="#1f4f7e"/>
<rect x="1762.6" y="1030.6" width="18.8" height="28.9" fill="#1e4a72"/>
<polygon points="1772.0,1034.8 1780.3,1039.9 1780.3,1050.1 1772.0,1055.2 1763.7,1050.1 1763.7,1039.9" fill="#2ba3fb" stroke="#2ba3fb" stroke-width="1"/>
<circle cx="1772.0" cy="1066.2" r="1.8" fill="#1f4f7e"/>
<polygon points="1795.9,1034.8 1804.2,1039.9 1804.2,1050.1 1795.9,1055.2 1787.6,1050.1 1787.6,1039.9" fill="#1e2126" stroke="#1f60a0" stroke-width="2.1"/>
<circle cx="1795.9" cy="1066.2" r="1.8" fill="#1f4f7e"/>
<polygon points="1819.8,1034.8 1828.1,1039.9 1828.1,1050.1 1819.8,1055.2 1811.5,1050.1 1811.5,1039.9" fill="#1e2126" stroke="#1f60a0" stroke-width="2.1"/>
<circle cx="1819.8" cy="1066.2" r="1.8" fill="#1f4f7e"/>
<polygon points="1843.6,1034.8 1851.9,1039.9 1851.9,1050.1 1843.6,1055.2 1835.3,1050.1 1835.3,1039.9" fill="#1e2126" stroke="#1f60a0" stroke-width="2.1"/>
<circle cx="1843.6" cy="1066.2" r="1.8" fill="#1f4f7e"/>
<g stroke="#a6a7aa" stroke-width="1.6" fill="none" stroke-linecap="round" stroke-linejoin="round"><circle cx="1888.2" cy="1031" r="3.7"/><path d="M1886.2 1031 h4 M1888.2 1029 v4" stroke-width="1.2"/><path d="M1894.3 1031 L1901.2 1031 M1898.6 1028.3 L1901.3 1031 L1898.6 1033.7" stroke-width="1.3"/><rect x="1877.2" y="1039" width="22.8" height="12.6" rx="6.3"/></g><circle cx="1884" cy="1045.3" r="2.5" fill="#a6a7aa"/>
<path d="M1918.5 1033.8 L1933.5 1033.8" stroke="#a6a7aa" stroke-width="1.7"/><path d="M1940.5 1033.8 L1977 1033.8" stroke="#3b3d42" stroke-width="1.4"/><circle cx="1937" cy="1033.8" r="3.4" stroke="#a6a7aa" stroke-width="1.7" fill="none"/>
</svg>
<div class="tl" style="left:764.5px;top:945px;font-size:14.2px;letter-spacing:.2px;color:#97989c">Similarity</div>
<div class="t" style="left:1738.5px;top:945px;font-size:14.2px;letter-spacing:.2px;color:#a8a9ad">History</div>
<div class="t" style="left:2015.5px;top:370.5px;font-size:13.3px;letter-spacing:1px;color:#696b70;transform:translate(-50%,-50%) rotate(90deg)">Shortlist</div>
<div class="t lab" style="left:689px;top:1002.6px">Sample</div>
<div class="t lab" style="left:766.3px;top:1002.6px">Pan</div>
<div class="t lab" style="left:868px;top:1002.6px">Envelope</div>
<div class="t lab" style="left:968.8px;top:1002.6px">Pitch</div>
<div class="t lab" style="left:1045.3px;top:1002.6px">Tone</div>
<div class="t lab" style="left:1133px;top:1002.6px">Cut</div>
<div class="t lab" style="left:1214.3px;top:1002.6px">VelSens</div>
<div class="t lab" style="left:1290.6px;top:1002.6px">Playback</div>
<div class="t lab" style="left:1373.6px;top:1002.6px">FX Sends</div>
<div class="t lab" style="left:1665.5px;top:1002.6px">Sequencer - Pattern A</div>
<div class="t lab" style="left:1919.7px;top:1002.6px">Groove</div>
<div class="t lab" style="left:2020.6px;top:1002.6px">Nudge</div>
<div class="t" style="left:763.8px;top:1057px;font-size:14.2px;color:#2668ad;-webkit-text-stroke:.4px #2668ad;transform:translate(-50%,-50%) scaleX(.86)">PAN</div>
<div class="t" style="left:968.2px;top:1057px;font-size:14.2px;color:#2668ad;-webkit-text-stroke:.4px #2668ad;transform:translate(-50%,-50%) scaleX(.86)">PIT</div>
<div class="t" style="left:1045.3px;top:1057px;font-size:14.2px;color:#2b9df4;-webkit-text-stroke:.4px #2b9df4;transform:translate(-50%,-50%) scaleX(.86)">TON</div>
<div class="t" style="left:1215px;top:1057px;font-size:14.2px;color:#2668ad;-webkit-text-stroke:.4px #2668ad;transform:translate(-50%,-50%) scaleX(.86)">VEL</div>
<div class="t" style="left:2024px;top:1057px;font-size:14.2px;color:#2b9df4;-webkit-text-stroke:.4px #2b9df4;transform:translate(-50%,-50%) scaleX(.86)">NUD</div>
<div class="t" style="left:1280.2px;top:1036.2px;font-size:12.5px;color:#2668ad;-webkit-text-stroke:.4px #2668ad">P</div>
<div class="t" style="left:1301.7px;top:1056.6px;font-size:13px;color:#2668ad;-webkit-text-stroke:.45px #2668ad">M</div>
<div class="t" style="left:1345px;top:1033.0px;font-size:13.2px;color:#2668ad;-webkit-text-stroke:.45px #2668ad">1</div>
<div class="t" style="left:1345px;top:1055.5px;font-size:13.2px;color:#2668ad;-webkit-text-stroke:.45px #2668ad">2</div>
<div class="t" style="left:1947px;top:1056.5px;font-size:14.3px;color:#a6a7aa;-webkit-text-stroke:.3px #a6a7aa;transform:translate(-50%,-50%) scaleX(.94)">Vintg16</div>
</div>
</body>
</html>
